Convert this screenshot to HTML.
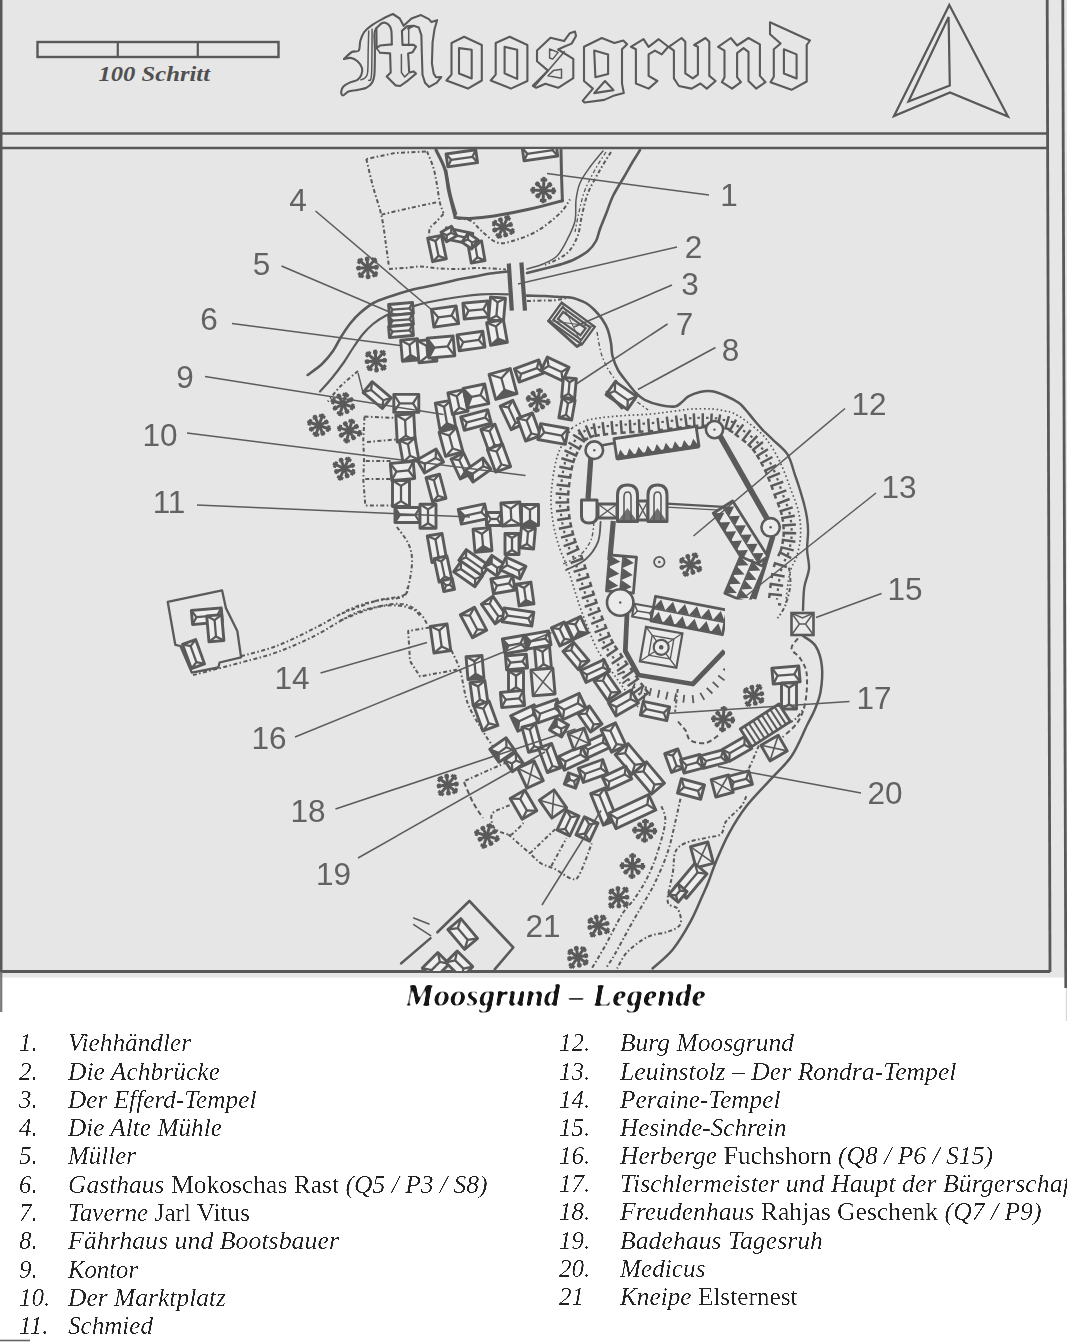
<!DOCTYPE html>
<html><head><meta charset="utf-8"><title>Moosgrund</title>
<style>html,body{margin:0;padding:0;background:#fff;}body{width:1067px;height:1344px;overflow:hidden;font-family:"Liberation Sans",sans-serif;}svg{display:block}</style>
</head><body>
<svg width="1067" height="1344" viewBox="0 0 1067 1344">
<rect x="0" y="0" width="1067" height="977.5" fill="#e6e6e6"/>
<rect x="1065.8" y="987" width="1.2" height="34" fill="#d8d8d8"/>
<path d="M1.2,0 L1.2,972" stroke="#585858" stroke-width="2.6" fill="none"/>
<path d="M0,133.5 L1047.5,133.5" stroke="#585858" stroke-width="2.6" fill="none"/>
<path d="M0,148 L1047.5,148" stroke="#585858" stroke-width="2.6" fill="none"/>
<path d="M1047.2,0 L1050,972" stroke="#585858" stroke-width="2.8" fill="none"/>
<path d="M1062.8,0 L1065.8,988" stroke="#585858" stroke-width="2.8" fill="none"/>
<path d="M0,971.5 L1050,971.5" stroke="#585858" stroke-width="2.8" fill="none"/>
<rect x="37.5" y="42" width="241" height="15" fill="none" stroke="#585858" stroke-width="2.4"/>
<path d="M117.8,42 V57 M197.8,42 V57" stroke="#585858" stroke-width="2.2"/>
<text x="98.5" y="81.3" font-family="Liberation Serif" font-size="21.5" font-style="italic" font-weight="bold" fill="#505050" textLength="111.5" lengthAdjust="spacingAndGlyphs">100 Schritt</text>
<path d="M949.3,5 L1008,116.5 L950,92.5 L894,116 Z" fill="none" stroke="#585858" stroke-width="2.2" stroke-linejoin="miter"/>
<path d="M948.6,17 L949.8,85.5 L908.5,101.5 Z" fill="none" stroke="#585858" stroke-width="2.2" stroke-linejoin="miter"/>
<path d="M344.0,59.0 C345.3,57.8 349.4,53.4 351.9,52.0 C354.3,50.6 357.4,52.4 358.8,50.5 C360.2,48.7 359.4,44.1 360.3,41.0 C361.2,37.9 362.5,34.5 364.2,32.0 C366.0,29.5 368.0,28.0 371.0,25.8 C374.0,23.6 378.6,21.0 382.2,19.1 C385.9,17.1 391.1,14.8 392.9,14.0" fill="none" stroke="#5a5a5a" stroke-width="2.1" stroke-linejoin="round" stroke-linecap="round"/>
<path d="M392.9,14.0 L399.7,18.5 L403.6,25.8 L411.5,18.5 L421.0,15.1 L428.9,19.1 L431.5,22.1 L437.1,20.2 L434.5,29.2 L432.6,42.1 L431.9,63.5 L433.7,73.6 L436.0,77.2 L441.3,77.0 L436.8,82.6 L429.2,86.9 L425.0,82.8 L422.5,74.7 L421.8,52.2 L421.4,35.4 L418.8,27.5 L413.7,25.8 L408.1,28.6" fill="none" stroke="#5a5a5a" stroke-width="2.1" stroke-linejoin="round" stroke-linecap="round"/>
<path d="M344.0,59.0 C345.1,58.8 348.5,57.5 350.7,57.9 C353.0,58.2 355.6,59.5 357.5,61.2 C359.4,62.9 361.3,65.7 362.0,68.0 C362.6,70.2 362.2,72.8 361.4,74.7 C360.7,76.7 359.5,78.5 357.5,79.8 C355.5,81.1 352.0,81.5 349.6,82.6 C347.3,83.7 344.8,85.0 343.4,86.5 C342.0,88.0 341.3,90.1 341.2,91.6 C341.1,93.1 341.7,95.5 342.9,95.5 C344.1,95.5 346.1,92.5 348.5,91.6 C350.9,90.7 354.5,90.6 357.5,89.9 C360.5,89.3 364.1,88.9 366.5,87.7 C368.9,86.4 370.8,84.8 372.1,82.6 C373.4,80.4 373.9,80.2 374.4,74.7 C374.8,69.3 374.9,56.7 374.9,50.0 C374.9,43.2 374.2,37.8 374.4,34.2 C374.5,30.7 375.8,29.6 376.0,28.6" fill="none" stroke="#5a5a5a" stroke-width="2.1" stroke-linejoin="round" stroke-linecap="round"/>
<path d="M368.7,30.9 C368.6,34.1 368.4,43.0 368.2,50.0 C368.0,56.9 368.2,67.8 367.6,72.5 C367.1,77.2 365.9,76.9 364.8,78.1 C363.7,79.3 361.5,79.5 360.9,79.8" fill="none" stroke="#5a5a5a" stroke-width="1.5" stroke-linejoin="round" stroke-linecap="round"/>
<path d="M372.1,29.2 C372.0,36.8 372.1,66.2 371.5,74.7 C371.0,83.3 369.2,79.4 368.7,80.3" fill="none" stroke="#5a5a5a" stroke-width="1.5" stroke-linejoin="round" stroke-linecap="round"/>
<path d="M376.0,28.6 C377.1,27.7 380.3,23.7 382.2,23.0 C384.2,22.2 386.4,23.0 387.9,24.1 C389.4,25.2 390.6,26.4 391.2,29.7 C391.9,33.1 391.7,41.9 391.8,44.4" fill="none" stroke="#5a5a5a" stroke-width="2.1" stroke-linejoin="round" stroke-linecap="round"/>
<path d="M391.8,44.4 L380.0,45.5 L376.6,48.3 L376.4,29.2" fill="none" stroke="#5a5a5a" stroke-width="2.1" stroke-linejoin="round" stroke-linecap="round"/>
<path d="M380.0,52.8 L390.1,53.4 L390.7,72.5 L386.7,76.4 L395.7,85.4 L400.2,86.0 L408.1,80.3 L416.0,73.6 L413.7,71.4 L409.2,72.5 L408.1,53.4 L412.6,52.2 L416.0,46.6 L413.7,44.9 L402.5,44.9 L401.9,30.9 L407.0,26.4 L412.6,25.8" fill="none" stroke="#5a5a5a" stroke-width="2.1" stroke-linejoin="round" stroke-linecap="round"/>
<path d="M401.4,54.5 L401.4,72.5 L404.7,77.0 L408.1,73.6" fill="none" stroke="#5a5a5a" stroke-width="1.5" stroke-linejoin="round" stroke-linecap="round"/>
<path d="M408.7,27.5 L408.7,45.5" fill="none" stroke="#5a5a5a" stroke-width="1.5" stroke-linejoin="round" stroke-linecap="round"/>
<path d="M376.6,48.3 L380.0,52.8" fill="none" stroke="#5a5a5a" stroke-width="1.5" stroke-linejoin="round" stroke-linecap="round"/>
<path d="M451.5,43.0 L464.1,36.7 L481.8,45.0 L481.8,80.5 L467.9,88.6 L446.4,80.5 L451.5,74.6 Z" fill="none" stroke="#5a5a5a" stroke-width="2.1" stroke-linejoin="round"/>
<path d="M459.0,48.1 L471.7,49.8 L471.7,78.4 L459.0,73.4 Z" fill="none" stroke="#5a5a5a" stroke-width="2.1" stroke-linejoin="round"/>
<path d="M495.7,43.0 L509.7,36.7 L527.4,45.0 L527.4,81.0 L510.9,88.6 L490.7,80.5 L495.7,74.6 Z" fill="none" stroke="#5a5a5a" stroke-width="2.1" stroke-linejoin="round"/>
<path d="M504.6,46.8 L517.2,49.8 L517.2,78.9 L504.6,73.4 Z" fill="none" stroke="#5a5a5a" stroke-width="2.1" stroke-linejoin="round"/>
<path d="M537.0,50.4 L550.5,37.7 L564.0,41.1 L569.9,33.2 L575.0,31.5 L576.0,36.0 L571.6,43.6 L564.0,46.7 L558.1,49.5 L573.3,58.8 L573.3,78.2 L558.1,87.8 L545.4,83.8 L536.2,87.8 L532.8,85.8 L541.2,77.4 L548.0,70.6 L537.0,61.3 Z" fill="none" stroke="#5a5a5a" stroke-width="2.1" stroke-linejoin="round"/>
<path d="M549.6,49.0 L558.1,52.4 L552.7,59.1 L549.6,58.0 Z" fill="none" stroke="#5a5a5a" stroke-width="1.5" stroke-linejoin="round"/>
<path d="M548.0,75.7 L561.5,78.2 L561.5,69.3 L553.4,70.6 Z" fill="none" stroke="#5a5a5a" stroke-width="1.5" stroke-linejoin="round"/>
<path d="M534.5,86.6 L564.8,51.2" fill="none" stroke="#5a5a5a" stroke-width="1.6" stroke-linejoin="round"/>
<path d="M584.0,46.8 L601.8,38.0 L614.4,43.0 L623.3,40.5 L627.1,44.3 L622.0,49.3 L622.0,83.5 L623.8,93.1 L614.4,95.4 L604.3,99.9 L584.5,102.5 L582.8,100.7 L592.9,88.6 L584.0,81.0 Z" fill="none" stroke="#5a5a5a" stroke-width="2.1" stroke-linejoin="round"/>
<path d="M594.2,50.6 L608.1,54.4 L608.1,73.9 L595.4,77.2 Z" fill="none" stroke="#5a5a5a" stroke-width="2.1" stroke-linejoin="round"/>
<path d="M605.0,81.0 L613.6,90.1 L594.2,93.1 Z" fill="none" stroke="#5a5a5a" stroke-width="2.1" stroke-linejoin="round"/>
<path d="M630.9,46.8 L643.5,39.2 L648.6,46.8 L658.7,39.2 L668.3,46.8 L661.7,54.4 L654.9,50.6 L648.6,54.4 L648.6,75.9 L657.4,81.0 L648.6,88.6 L635.9,83.5 L635.9,49.3 Z" fill="none" stroke="#5a5a5a" stroke-width="2.1" stroke-linejoin="round"/>
<path d="M668.8,46.8 L681.5,38.0 L685.3,41.8 L685.3,73.4 L692.8,78.4 L697.9,74.6 L697.9,46.8 L694.1,45.0 L705.5,38.0 L709.3,41.8 L709.3,75.9 L715.6,81.0 L706.8,88.6 L700.4,83.5 L691.6,88.6 L678.9,86.0 L673.9,78.4 L673.9,50.6 Z" fill="none" stroke="#5a5a5a" stroke-width="2.1" stroke-linejoin="round"/>
<path d="M718.1,46.8 L730.8,38.0 L737.1,45.5 L748.5,38.0 L759.9,44.3 L759.9,75.9 L765.5,82.2 L756.1,88.6 L748.5,81.0 L748.5,51.9 L743.5,48.1 L737.1,53.1 L737.1,77.2 L740.9,82.2 L732.1,88.6 L721.9,82.2 L724.5,77.2 L724.5,50.6 Z" fill="none" stroke="#5a5a5a" stroke-width="2.1" stroke-linejoin="round"/>
<path d="M770.0,22.3 L810.0,40.5 L806.7,45.0 L806.7,81.5 L791.5,89.8 L770.5,82.2 L773.8,76.7 L773.8,49.3 L780.6,43.5 L770.0,34.2 Z" fill="none" stroke="#5a5a5a" stroke-width="2.1" stroke-linejoin="round"/>
<path d="M783.9,49.3 L796.6,54.4 L796.6,78.4 L783.9,73.4 Z" fill="none" stroke="#5a5a5a" stroke-width="2.1" stroke-linejoin="round"/>
<clipPath id="mapclip"><rect x="2.5" y="149.3" width="1046" height="821"/></clipPath>
<filter id="hand" x="0" y="0" width="100%" height="100%" filterUnits="userSpaceOnUse"><feGaussianBlur stdDeviation="0.4"/></filter>
<g clip-path="url(#mapclip)"><g filter="url(#hand)">
<path d="M425.8,151.5 L395.0,153.0 L366.3,159.0" fill="none" stroke="#5a5a5a" stroke-width="2.0" stroke-linecap="butt" stroke-linejoin="round" stroke-dasharray="4 2.4 1.6 2.4"/>
<path d="M366.3,159.0 C367.4,163.4 370.2,176.0 372.7,185.5 C375.2,195.0 379.3,206.0 381.5,215.9 C383.7,225.8 384.8,236.5 386.0,245.0 C387.2,253.5 388.5,263.3 389.0,267.0" fill="none" stroke="#5a5a5a" stroke-width="2.0" stroke-linecap="butt" stroke-linejoin="round" stroke-dasharray="4 2.4 1.6 2.4"/>
<path d="M389.0,269.0 C391.7,268.8 399.7,268.4 405.0,268.0 C410.3,267.6 414.9,266.4 420.7,266.5 C426.5,266.6 433.2,268.1 440.0,268.5 C446.8,268.9 454.5,269.1 461.2,269.0 C467.9,268.9 472.5,267.9 480.0,268.0 C487.5,268.1 501.7,269.2 506.0,269.5" fill="none" stroke="#5a5a5a" stroke-width="2.0" stroke-linecap="butt" stroke-linejoin="round" stroke-dasharray="4 2.4 1.6 2.4"/>
<path d="M381.5,214.6 C386.2,213.5 400.5,210.1 410.0,208.0 C419.5,205.9 433.7,202.9 438.4,201.9" fill="none" stroke="#5a5a5a" stroke-width="2.0" stroke-linecap="butt" stroke-linejoin="round" stroke-dasharray="4 2.4 1.6 2.4"/>
<path d="M427.0,151.3 C428.1,154.1 431.7,162.2 433.4,167.8 C435.1,173.4 435.9,179.3 437.0,185.0 C438.1,190.7 438.6,197.2 439.7,201.9 C440.8,206.6 442.9,211.4 443.5,213.3" fill="none" stroke="#5a5a5a" stroke-width="2.0" stroke-linecap="butt" stroke-linejoin="round" stroke-dasharray="4 2.4 1.6 2.4"/>
<path d="M443.5,214.0 C442.2,215.3 438.2,219.7 436.0,222.0 C433.8,224.3 431.2,225.7 430.0,228.0 C428.8,230.3 429.2,234.7 429.0,236.0" fill="none" stroke="#5a5a5a" stroke-width="2.0" stroke-linecap="butt" stroke-linejoin="round" stroke-dasharray="4 2.4 1.6 2.4"/>
<path d="M457.4,218.4 C459.7,218.8 467.3,218.9 471.3,221.0 C475.3,223.1 477.3,227.4 481.5,231.0 C485.7,234.6 491.6,240.7 496.6,242.4 C501.7,244.1 505.1,243.1 511.8,241.2 C518.5,239.3 529.1,235.7 537.1,231.0 C545.1,226.3 554.4,218.6 559.9,213.3 C565.4,208.0 568.3,201.7 570.0,199.4" fill="none" stroke="#5a5a5a" stroke-width="2.0" stroke-linecap="butt" stroke-linejoin="round" stroke-dasharray="4 2.4 1.6 2.4"/>
<path d="M436.0,150.0 C437.5,153.2 442.7,162.2 444.8,169.0 C446.9,175.8 446.9,182.7 448.6,190.5 C450.3,198.3 453.8,211.6 454.9,215.8" fill="none" stroke="#5a5a5a" stroke-width="3.2" stroke-linecap="round" stroke-linejoin="round"/>
<path d="M446.5,170.0 C447.2,174.2 449.3,187.7 451.0,195.0 C452.7,202.3 455.6,210.8 456.5,214.0" fill="none" stroke="#5a5a5a" stroke-width="1.6" stroke-linecap="round" stroke-linejoin="round"/>
<path d="M454.9,217.5 C457.4,217.7 463.5,218.8 470.0,218.5 C476.5,218.2 484.0,217.6 494.0,216.0 C504.0,214.4 518.6,211.6 530.0,209.0 C541.4,206.4 557.0,202.1 562.4,200.7" fill="none" stroke="#5a5a5a" stroke-width="3" stroke-linecap="round" stroke-linejoin="round"/>
<path d="M561.0,150.0 L561.5,175.0 L562.4,200.7" fill="none" stroke="#5a5a5a" stroke-width="3" stroke-linecap="round" stroke-linejoin="round"/>
<g transform="translate(461.8,158.3) rotate(-8)" fill="#eeeeee" stroke="#5a5a5a" stroke-width="2.9" stroke-linejoin="round"><rect x="-15.0" y="-6.5" width="30.0" height="13.0"/><path d="M-10.8,0.0 L10.8,0.0" stroke-width="2.26"/><path d="M-15.0,-6.5 L-10.8,0.0 L-15.0,6.5 M15.0,-6.5 L10.8,0.0 L15.0,6.5" fill="none" stroke-width="2.26"/></g>
<g transform="translate(540.0,152.0) rotate(-8)" fill="#eeeeee" stroke="#5a5a5a" stroke-width="2.9" stroke-linejoin="round"><rect x="-17.0" y="-6.5" width="34.0" height="13.0"/><path d="M-12.8,0.0 L12.8,0.0" stroke-width="2.26"/><path d="M-17.0,-6.5 L-12.8,0.0 L-17.0,6.5 M17.0,-6.5 L12.8,0.0 L17.0,6.5" fill="none" stroke-width="2.26"/></g>
<g transform="translate(543.5,190.5) rotate(2)" stroke="#5a5a5a" stroke-linecap="butt" fill="none"><path d="M0,0 L12.6,0.0" stroke-width="3.0"/><path d="M9.8,-3.3 L9.8,3.3" stroke-width="3.2"/><path d="M0,0 L8.0,8.0" stroke-width="3.0"/><path d="M7.8,4.6 L4.6,7.8" stroke-width="3.2"/><path d="M0,0 L0.0,12.8" stroke-width="3.0"/><path d="M3.3,10.0 L-3.3,10.0" stroke-width="3.2"/><path d="M0,0 L-7.1,7.1" stroke-width="3.0"/><path d="M-3.9,7.2 L-7.2,3.9" stroke-width="3.2"/><path d="M0,0 L-13.2,0.0" stroke-width="3.0"/><path d="M-10.3,3.3 L-10.3,-3.3" stroke-width="3.2"/><path d="M0,0 L-7.9,-7.9" stroke-width="3.0"/><path d="M-7.8,-4.6 L-4.6,-7.8" stroke-width="3.2"/><path d="M0,0 L-0.0,-13.6" stroke-width="3.0"/><path d="M-3.3,-10.6 L3.3,-10.6" stroke-width="3.2"/><path d="M0,0 L7.7,-7.7" stroke-width="3.0"/><path d="M4.4,-7.7 L7.7,-4.4" stroke-width="3.2"/><circle r="2.4" fill="#5a5a5a" stroke="none"/></g>
<g transform="translate(503.0,227.2) rotate(26)" stroke="#5a5a5a" stroke-linecap="butt" fill="none"><path d="M0,0 L12.7,0.0" stroke-width="3.0"/><path d="M9.9,-3.3 L9.9,3.3" stroke-width="3.2"/><path d="M0,0 L7.4,7.4" stroke-width="3.0"/><path d="M7.4,4.1 L4.1,7.4" stroke-width="3.2"/><path d="M0,0 L0.0,12.3" stroke-width="3.0"/><path d="M3.3,9.6 L-3.3,9.6" stroke-width="3.2"/><path d="M0,0 L-7.9,7.9" stroke-width="3.0"/><path d="M-4.5,7.8 L-7.8,4.5" stroke-width="3.2"/><path d="M0,0 L-11.9,0.0" stroke-width="3.0"/><path d="M-9.3,3.3 L-9.3,-3.3" stroke-width="3.2"/><path d="M0,0 L-7.1,-7.1" stroke-width="3.0"/><path d="M-7.1,-3.9 L-3.9,-7.1" stroke-width="3.2"/><path d="M0,0 L-0.0,-13.1" stroke-width="3.0"/><path d="M-3.3,-10.2 L3.3,-10.2" stroke-width="3.2"/><path d="M0,0 L7.2,-7.2" stroke-width="3.0"/><path d="M4.0,-7.3 L7.3,-4.0" stroke-width="3.2"/><circle r="2.4" fill="#5a5a5a" stroke="none"/></g>
<g transform="translate(367.6,267.7) rotate(42)" stroke="#5a5a5a" stroke-linecap="butt" fill="none"><path d="M0,0 L12.7,0.0" stroke-width="3.0"/><path d="M9.9,-3.3 L9.9,3.3" stroke-width="3.2"/><path d="M0,0 L8.1,8.1" stroke-width="3.0"/><path d="M8.0,4.7 L4.7,8.0" stroke-width="3.2"/><path d="M0,0 L0.0,12.8" stroke-width="3.0"/><path d="M3.3,10.0 L-3.3,10.0" stroke-width="3.2"/><path d="M0,0 L-8.1,8.1" stroke-width="3.0"/><path d="M-4.7,7.9 L-7.9,4.7" stroke-width="3.2"/><path d="M0,0 L-12.9,0.0" stroke-width="3.0"/><path d="M-10.0,3.3 L-10.0,-3.3" stroke-width="3.2"/><path d="M0,0 L-7.8,-7.8" stroke-width="3.0"/><path d="M-7.7,-4.5 L-4.5,-7.7" stroke-width="3.2"/><path d="M0,0 L-0.0,-12.7" stroke-width="3.0"/><path d="M-3.3,-9.9 L3.3,-9.9" stroke-width="3.2"/><path d="M0,0 L7.9,-7.9" stroke-width="3.0"/><path d="M4.5,-7.8 L7.8,-4.5" stroke-width="3.2"/><circle r="2.4" fill="#5a5a5a" stroke="none"/></g>
<g transform="translate(437.0,248.5) rotate(-12)" fill="#eeeeee" stroke="#5a5a5a" stroke-width="2.9" stroke-linejoin="round"><rect x="-7.0" y="-12.0" width="14.0" height="24.0"/><path d="M0.0,-7.5 L0.0,7.5" stroke-width="2.26"/><path d="M-7.0,-12.0 L0.0,-7.5 L7.0,-12.0 M-7.0,12.0 L0.0,7.5 L7.0,12.0" fill="none" stroke-width="2.26"/></g>
<g transform="translate(458.5,236.0) rotate(12)" fill="#eeeeee" stroke="#5a5a5a" stroke-width="2.9" stroke-linejoin="round"><rect x="-13.5" y="-5.5" width="27.0" height="11.0"/><path d="M-10.0,0.0 L10.0,0.0" stroke-width="2.26"/><path d="M-13.5,-5.5 L-10.0,0.0 L-13.5,5.5 M13.5,-5.5 L10.0,0.0 L13.5,5.5" fill="none" stroke-width="2.26"/></g>
<g transform="translate(449.0,234.0) rotate(-30)" fill="#eeeeee" stroke="#5a5a5a" stroke-width="2.9" stroke-linejoin="round"><rect x="-6.0" y="-5.5" width="12.0" height="11.0"/><path d="M-2.5,0.0 L2.5,0.0" stroke-width="2.26"/><path d="M-6.0,-5.5 L-2.5,0.0 L-6.0,5.5 M6.0,-5.5 L2.5,0.0 L6.0,5.5" fill="none" stroke-width="2.26"/></g>
<g transform="translate(476.4,252.0) rotate(-10)" fill="#eeeeee" stroke="#5a5a5a" stroke-width="2.9" stroke-linejoin="round"><rect x="-7.0" y="-10.0" width="14.0" height="20.0"/><path d="M0.0,-5.5 L0.0,5.5" stroke-width="2.26"/><path d="M-7.0,-10.0 L0.0,-5.5 L7.0,-10.0 M-7.0,10.0 L0.0,5.5 L7.0,10.0" fill="none" stroke-width="2.26"/></g>
<g transform="translate(470.0,241.0) rotate(35)" fill="#eeeeee" stroke="#5a5a5a" stroke-width="2.9" stroke-linejoin="round"><rect x="-6.0" y="-5.5" width="12.0" height="11.0"/><path d="M-2.5,0.0 L2.5,0.0" stroke-width="2.26"/><path d="M-6.0,-5.5 L-2.5,0.0 L-6.0,5.5 M6.0,-5.5 L2.5,0.0 L6.0,5.5" fill="none" stroke-width="2.26"/></g>
<path d="M640.0,150.0 C638.7,152.2 634.7,158.5 632.0,163.0 C629.3,167.5 627.2,171.5 624.0,177.0 C620.8,182.5 616.0,189.8 613.0,196.0 C610.0,202.2 608.2,208.5 606.0,214.0 C603.8,219.5 601.7,224.5 600.0,229.0 C598.3,233.5 598.0,237.3 596.0,241.0 C594.0,244.7 591.5,248.0 588.0,251.0 C584.5,254.0 579.3,256.8 575.0,259.0 C570.7,261.2 567.0,262.4 562.0,264.0 C557.0,265.6 550.8,267.0 545.0,268.5 C539.2,270.0 530.0,272.2 527.0,273.0" fill="none" stroke="#5a5a5a" stroke-width="2.6" stroke-linecap="round" stroke-linejoin="round"/>
<path d="M603.0,151.0 C600.8,153.7 593.8,161.7 590.0,167.0 C586.2,172.3 582.3,177.5 580.0,183.0 C577.7,188.5 576.8,193.7 576.0,200.0 C575.2,206.3 576.5,214.3 575.0,221.0 C573.5,227.7 570.0,234.2 567.0,240.0 C564.0,245.8 561.0,252.0 557.0,256.0 C553.0,260.0 548.0,261.8 543.0,264.0 C538.0,266.2 529.7,268.2 527.0,269.0" fill="none" stroke="#5a5a5a" stroke-width="1.5" stroke-linecap="round" stroke-linejoin="round"/>
<path d="M611.0,152.0 C609.2,155.0 603.8,163.2 600.0,170.0 C596.2,176.8 591.0,185.5 588.0,193.0 C585.0,200.5 583.7,208.0 582.0,215.0 C580.3,222.0 580.0,229.2 578.0,235.0 C576.0,240.8 573.0,246.2 570.0,250.0 C567.0,253.8 564.2,255.5 560.0,258.0 C555.8,260.5 547.5,263.8 545.0,265.0" fill="none" stroke="#5a5a5a" stroke-width="2.0" stroke-linecap="butt" stroke-linejoin="round" stroke-dasharray="4 2.4 1.6 2.4"/>
<path d="M606.0,152.0 C604.3,154.7 599.5,161.7 596.0,168.0 C592.5,174.3 587.8,182.7 585.0,190.0 C582.2,197.3 580.7,205.0 579.0,212.0 C577.3,219.0 575.7,228.7 575.0,232.0" fill="none" stroke="#5a5a5a" stroke-width="1.3" stroke-linecap="butt" stroke-linejoin="round" stroke-dasharray="4 2.4 1.6 2.4"/>
<path d="M508.0,271.5 C505.0,271.8 495.7,272.6 490.0,273.5 C484.3,274.4 479.3,275.6 474.0,276.6 C468.7,277.6 463.1,278.4 458.0,279.5 C452.9,280.6 449.0,281.8 443.5,283.0 C438.0,284.2 430.4,285.8 425.0,287.0 C419.6,288.2 416.8,288.4 411.0,290.0 C405.2,291.6 396.3,294.3 390.0,296.5 C383.7,298.7 378.4,300.2 373.4,303.0 C368.4,305.8 363.8,309.7 360.0,313.0 C356.2,316.3 353.8,319.0 350.6,323.0 C347.4,327.0 343.9,332.3 341.0,337.0 C338.1,341.7 336.2,346.5 333.0,351.0 C329.8,355.5 326.2,360.0 322.0,364.0 C317.8,368.0 310.0,373.2 307.6,375.0" fill="none" stroke="#5a5a5a" stroke-width="2.6" stroke-linecap="round" stroke-linejoin="round"/>
<path d="M508.0,294.3 C505.8,294.2 499.4,294.0 495.0,294.0 C490.6,294.0 487.0,293.9 481.5,294.3 C476.0,294.7 468.3,295.6 462.0,296.5 C455.7,297.4 449.7,298.3 443.5,299.4 C437.3,300.5 430.5,301.7 425.0,303.0 C419.5,304.3 415.1,305.7 410.6,307.0 C406.1,308.3 402.1,309.6 398.0,311.0 C393.9,312.4 390.2,313.3 386.0,315.5 C381.8,317.7 376.8,320.9 373.0,324.0 C369.2,327.1 366.3,330.0 363.0,334.0 C359.7,338.0 356.3,343.1 353.0,348.0 C349.7,352.9 346.5,358.5 343.0,363.5 C339.5,368.5 335.8,373.3 332.0,378.0 C328.2,382.7 322.0,389.2 320.0,391.5" fill="none" stroke="#5a5a5a" stroke-width="2.2" stroke-linecap="round" stroke-linejoin="round"/>
<path d="M508.8,263.5 L511.8,310.7" fill="none" stroke="#5a5a5a" stroke-width="4.2" stroke-linecap="butt" stroke-linejoin="round"/>
<path d="M521.4,262.5 L525.0,310.7" fill="none" stroke="#5a5a5a" stroke-width="4.2" stroke-linecap="butt" stroke-linejoin="round"/>
<path d="M527.0,295.6 C530.0,295.7 539.9,295.8 545.0,296.0 C550.1,296.2 553.2,296.6 557.4,296.8 C561.6,297.1 566.6,297.1 570.0,297.5 C573.4,297.9 574.9,298.5 577.6,299.4 C580.3,300.3 583.3,301.3 586.0,303.0 C588.7,304.7 591.3,306.8 594.0,309.5 C596.7,312.2 599.8,315.8 602.0,319.0 C604.2,322.2 606.0,325.0 607.5,329.0 C609.0,333.0 610.2,338.5 611.0,343.0 C611.8,347.5 611.3,351.5 612.5,356.0 C613.7,360.5 615.5,365.5 618.0,370.0 C620.5,374.5 624.7,379.2 627.7,383.0 C630.7,386.8 633.2,390.2 636.0,393.0 C638.8,395.8 640.6,397.8 644.6,399.8 C648.6,401.8 654.9,403.9 660.0,405.0 C665.1,406.1 671.3,407.0 675.0,406.5 C678.7,406.0 679.8,403.7 682.0,402.0 C684.2,400.3 685.4,398.1 688.4,396.4 C691.4,394.7 696.1,392.9 700.0,392.0 C703.9,391.1 707.7,390.6 712.0,391.3 C716.3,392.0 721.5,394.1 726.0,396.0 C730.5,397.9 735.7,400.7 739.0,403.0 C742.3,405.3 743.3,407.2 745.8,410.0 C748.3,412.8 751.2,416.7 754.0,420.0 C756.8,423.3 761.2,428.3 762.7,430.0" fill="none" stroke="#5a5a5a" stroke-width="2.6" stroke-linecap="round" stroke-linejoin="round"/>
<path d="M527.0,301.0 C530.0,300.9 540.0,300.7 545.0,300.5 C550.0,300.3 552.8,300.6 557.0,300.0 C561.2,299.4 567.8,297.5 570.0,297.0" fill="none" stroke="#5a5a5a" stroke-width="2.0" stroke-linecap="butt" stroke-linejoin="round" stroke-dasharray="4 2.4 1.6 2.4"/>
<path d="M597.0,332.0 C597.8,336.0 599.4,348.7 602.0,356.0 C604.6,363.3 607.7,369.3 612.5,376.0 C617.3,382.7 625.1,390.7 631.0,396.4 C636.9,402.1 645.2,407.7 648.0,410.0" fill="none" stroke="#5a5a5a" stroke-width="1.4" stroke-linecap="butt" stroke-linejoin="round" stroke-dasharray="4 2.4 1.6 2.4"/>
<g transform="translate(571.8,323.6) rotate(36)" fill="none" stroke="#5a5a5a" stroke-width="2.2"><rect x="-20.5" y="-11.0" width="41.0" height="22.0"/><rect x="-17.2" y="-7.7" width="34.4" height="15.4"/><rect x="-13.9" y="-4.4" width="27.8" height="8.8"/><path d="M-20.5,-11.0 L20.5,11.0 M20.5,-11.0 L-20.5,11.0" stroke-width="1"/></g>
<path d="M548.5,321.0 L577.0,346.5 L581.0,344.0" fill="none" stroke="#5a5a5a" stroke-width="3" stroke-linecap="round" stroke-linejoin="round"/>
<g transform="translate(621.3,395.6) rotate(35)" fill="#eeeeee" stroke="#5a5a5a" stroke-width="2.9" stroke-linejoin="round"><rect x="-13.0" y="-8.0" width="26.0" height="16.0"/><path d="M-7.9,0.0 L7.9,0.0" stroke-width="2.26"/><path d="M-13.0,-8.0 L-7.9,0.0 L-13.0,8.0 M13.0,-8.0 L7.9,0.0 L13.0,8.0" fill="none" stroke-width="2.26"/></g>
<path d="M607.0,392.0 L622.0,408.0" fill="none" stroke="#5a5a5a" stroke-width="3" stroke-linecap="round" stroke-linejoin="round"/>
<g transform="translate(401.0,309.0) rotate(-5)" fill="#eeeeee" stroke="#5a5a5a" stroke-width="2.9" stroke-linejoin="round"><rect x="-12.0" y="-5.5" width="24.0" height="11.0"/><path d="M-8.5,0.0 L8.5,0.0" stroke-width="2.26"/><path d="M-12.0,-5.5 L-8.5,0.0 L-12.0,5.5 M12.0,-5.5 L8.5,0.0 L12.0,5.5" fill="none" stroke-width="2.26"/></g>
<g transform="translate(401.0,320.0) rotate(-5)" fill="#eeeeee" stroke="#5a5a5a" stroke-width="2.9" stroke-linejoin="round"><rect x="-12.0" y="-5.5" width="24.0" height="11.0"/><path d="M-8.5,0.0 L8.5,0.0" stroke-width="2.26"/><path d="M-12.0,-5.5 L-8.5,0.0 L-12.0,5.5 M12.0,-5.5 L8.5,0.0 L12.0,5.5" fill="none" stroke-width="2.26"/><path d="M-12.0,-5.5 L-8.5,0.0 L-12.0,5.5 Z" fill="#5a5a5a" stroke="none"/></g>
<g transform="translate(401.0,331.0) rotate(-5)" fill="#eeeeee" stroke="#5a5a5a" stroke-width="2.9" stroke-linejoin="round"><rect x="-12.0" y="-5.5" width="24.0" height="11.0"/><path d="M-8.5,0.0 L8.5,0.0" stroke-width="2.26"/><path d="M-12.0,-5.5 L-8.5,0.0 L-12.0,5.5 M12.0,-5.5 L8.5,0.0 L12.0,5.5" fill="none" stroke-width="2.26"/></g>
<g transform="translate(410.0,350.0) rotate(-5)" fill="#eeeeee" stroke="#5a5a5a" stroke-width="2.9" stroke-linejoin="round"><rect x="-8.5" y="-10.5" width="17.0" height="21.0"/><path d="M0.0,-5.1 L0.0,5.1" stroke-width="2.26"/><path d="M-8.5,-10.5 L0.0,-5.1 L8.5,-10.5 M-8.5,10.5 L0.0,5.1 L8.5,10.5" fill="none" stroke-width="2.26"/><path d="M-8.5,10.5 L0.0,5.1 L8.5,10.5 Z" fill="#5a5a5a" stroke="none"/></g>
<g transform="translate(427.0,351.0) rotate(-5)" fill="#eeeeee" stroke="#5a5a5a" stroke-width="2.9" stroke-linejoin="round"><rect x="-9.0" y="-11.0" width="18.0" height="22.0"/><path d="M0.0,-5.2 L0.0,5.2" stroke-width="2.26"/><path d="M-9.0,-11.0 L0.0,-5.2 L9.0,-11.0 M-9.0,11.0 L0.0,5.2 L9.0,11.0" fill="none" stroke-width="2.26"/></g>
<g transform="translate(441.0,347.0) rotate(-5)" fill="#eeeeee" stroke="#5a5a5a" stroke-width="2.9" stroke-linejoin="round"><rect x="-13.0" y="-10.0" width="26.0" height="20.0"/><path d="M-6.6,0.0 L6.6,0.0" stroke-width="2.26"/><path d="M-13.0,-10.0 L-6.6,0.0 L-13.0,10.0 M13.0,-10.0 L6.6,0.0 L13.0,10.0" fill="none" stroke-width="2.26"/><path d="M-13.0,-10.0 L-6.6,0.0 L-13.0,10.0 Z" fill="#5a5a5a" stroke="none"/></g>
<g transform="translate(445.0,316.5) rotate(-8)" fill="#eeeeee" stroke="#5a5a5a" stroke-width="2.9" stroke-linejoin="round"><rect x="-12.5" y="-9.0" width="25.0" height="18.0"/><path d="M-6.7,0.0 L6.7,0.0" stroke-width="2.26"/><path d="M-12.5,-9.0 L-6.7,0.0 L-12.5,9.0 M12.5,-9.0 L6.7,0.0 L12.5,9.0" fill="none" stroke-width="2.26"/></g>
<g transform="translate(476.0,310.0) rotate(-5)" fill="#eeeeee" stroke="#5a5a5a" stroke-width="2.9" stroke-linejoin="round"><rect x="-12.5" y="-8.0" width="25.0" height="16.0"/><path d="M-7.4,0.0 L7.4,0.0" stroke-width="2.26"/><path d="M-12.5,-8.0 L-7.4,0.0 L-12.5,8.0 M12.5,-8.0 L7.4,0.0 L12.5,8.0" fill="none" stroke-width="2.26"/></g>
<g transform="translate(497.0,309.0) rotate(5)" fill="#eeeeee" stroke="#5a5a5a" stroke-width="2.9" stroke-linejoin="round"><rect x="-7.5" y="-11.5" width="15.0" height="23.0"/><path d="M0.0,-6.7 L0.0,6.7" stroke-width="2.26"/><path d="M-7.5,-11.5 L0.0,-6.7 L7.5,-11.5 M-7.5,11.5 L0.0,6.7 L7.5,11.5" fill="none" stroke-width="2.26"/></g>
<g transform="translate(497.0,332.5) rotate(-10)" fill="#eeeeee" stroke="#5a5a5a" stroke-width="2.9" stroke-linejoin="round"><rect x="-8.5" y="-11.5" width="17.0" height="23.0"/><path d="M0.0,-6.1 L0.0,6.1" stroke-width="2.26"/><path d="M-8.5,-11.5 L0.0,-6.1 L8.5,-11.5 M-8.5,11.5 L0.0,6.1 L8.5,11.5" fill="none" stroke-width="2.26"/><path d="M-8.5,11.5 L0.0,6.1 L8.5,11.5 Z" fill="#5a5a5a" stroke="none"/></g>
<g transform="translate(471.0,341.0) rotate(-8)" fill="#eeeeee" stroke="#5a5a5a" stroke-width="2.9" stroke-linejoin="round"><rect x="-13.0" y="-8.0" width="26.0" height="16.0"/><path d="M-7.9,0.0 L7.9,0.0" stroke-width="2.26"/><path d="M-13.0,-8.0 L-7.9,0.0 L-13.0,8.0 M13.0,-8.0 L7.9,0.0 L13.0,8.0" fill="none" stroke-width="2.26"/></g>
<g transform="translate(377.2,395.1) rotate(40)" fill="#eeeeee" stroke="#5a5a5a" stroke-width="2.9" stroke-linejoin="round"><rect x="-12.5" y="-7.0" width="25.0" height="14.0"/><path d="M-8.0,0.0 L8.0,0.0" stroke-width="2.26"/><path d="M-12.5,-7.0 L-8.0,0.0 L-12.5,7.0 M12.5,-7.0 L8.0,0.0 L12.5,7.0" fill="none" stroke-width="2.26"/></g>
<g transform="translate(406.3,403.4) rotate(0)" fill="#eeeeee" stroke="#5a5a5a" stroke-width="2.9" stroke-linejoin="round"><rect x="-12.5" y="-9.0" width="25.0" height="18.0"/><path d="M-6.7,0.0 L6.7,0.0" stroke-width="2.26"/><path d="M-12.5,-9.0 L-6.7,0.0 L-12.5,9.0 M12.5,-9.0 L6.7,0.0 L12.5,9.0" fill="none" stroke-width="2.26"/></g>
<g transform="translate(405.5,428.0) rotate(-3)" fill="#eeeeee" stroke="#5a5a5a" stroke-width="2.9" stroke-linejoin="round"><rect x="-9.0" y="-13.5" width="18.0" height="27.0"/><path d="M0.0,-7.7 L0.0,7.7" stroke-width="2.26"/><path d="M-9.0,-13.5 L0.0,-7.7 L9.0,-13.5 M-9.0,13.5 L0.0,7.7 L9.0,13.5" fill="none" stroke-width="2.26"/></g>
<g transform="translate(409.0,450.0) rotate(-10)" fill="#eeeeee" stroke="#5a5a5a" stroke-width="2.9" stroke-linejoin="round"><rect x="-8.0" y="-11.0" width="16.0" height="22.0"/><path d="M0.0,-5.9 L0.0,5.9" stroke-width="2.26"/><path d="M-8.0,-11.0 L0.0,-5.9 L8.0,-11.0 M-8.0,11.0 L0.0,5.9 L8.0,11.0" fill="none" stroke-width="2.26"/></g>
<g transform="translate(402.5,471.0) rotate(-5)" fill="#eeeeee" stroke="#5a5a5a" stroke-width="2.9" stroke-linejoin="round"><rect x="-11.5" y="-8.5" width="23.0" height="17.0"/><path d="M-6.1,0.0 L6.1,0.0" stroke-width="2.26"/><path d="M-11.5,-8.5 L-6.1,0.0 L-11.5,8.5 M11.5,-8.5 L6.1,0.0 L11.5,8.5" fill="none" stroke-width="2.26"/></g>
<g transform="translate(430.3,461.0) rotate(-30)" fill="#eeeeee" stroke="#5a5a5a" stroke-width="2.9" stroke-linejoin="round"><rect x="-11.0" y="-7.5" width="22.0" height="15.0"/><path d="M-6.2,0.0 L6.2,0.0" stroke-width="2.26"/><path d="M-11.0,-7.5 L-6.2,0.0 L-11.0,7.5 M11.0,-7.5 L6.2,0.0 L11.0,7.5" fill="none" stroke-width="2.26"/></g>
<g transform="translate(445.5,415.0) rotate(-10)" fill="#eeeeee" stroke="#5a5a5a" stroke-width="2.9" stroke-linejoin="round"><rect x="-8.0" y="-13.5" width="16.0" height="27.0"/><path d="M0.0,-8.4 L0.0,8.4" stroke-width="2.26"/><path d="M-8.0,-13.5 L0.0,-8.4 L8.0,-13.5 M-8.0,13.5 L0.0,8.4 L8.0,13.5" fill="none" stroke-width="2.26"/><path d="M-8.0,13.5 L0.0,8.4 L8.0,13.5 Z" fill="#5a5a5a" stroke="none"/></g>
<g transform="translate(458.0,402.0) rotate(-12)" fill="#eeeeee" stroke="#5a5a5a" stroke-width="2.9" stroke-linejoin="round"><rect x="-8.0" y="-11.0" width="16.0" height="22.0"/><path d="M0.0,-5.9 L0.0,5.9" stroke-width="2.26"/><path d="M-8.0,-11.0 L0.0,-5.9 L8.0,-11.0 M-8.0,11.0 L0.0,5.9 L8.0,11.0" fill="none" stroke-width="2.26"/></g>
<g transform="translate(476.0,396.0) rotate(-12)" fill="#eeeeee" stroke="#5a5a5a" stroke-width="2.9" stroke-linejoin="round"><rect x="-11.0" y="-10.0" width="22.0" height="20.0"/><path d="M-4.6,0.0 L4.6,0.0" stroke-width="2.26"/><path d="M-11.0,-10.0 L-4.6,0.0 L-11.0,10.0 M11.0,-10.0 L4.6,0.0 L11.0,10.0" fill="none" stroke-width="2.26"/><path d="M-11.0,-10.0 L-4.6,0.0 L-11.0,10.0 Z" fill="#5a5a5a" stroke="none"/></g>
<g transform="translate(476.0,420.0) rotate(-15)" fill="#eeeeee" stroke="#5a5a5a" stroke-width="2.9" stroke-linejoin="round"><rect x="-14.0" y="-7.0" width="28.0" height="14.0"/><path d="M-9.5,0.0 L9.5,0.0" stroke-width="2.26"/><path d="M-14.0,-7.0 L-9.5,0.0 L-14.0,7.0 M14.0,-7.0 L9.5,0.0 L14.0,7.0" fill="none" stroke-width="2.26"/></g>
<g transform="translate(451.0,442.0) rotate(-15)" fill="#eeeeee" stroke="#5a5a5a" stroke-width="2.9" stroke-linejoin="round"><rect x="-9.0" y="-12.5" width="18.0" height="25.0"/><path d="M0.0,-6.7 L0.0,6.7" stroke-width="2.26"/><path d="M-9.0,-12.5 L0.0,-6.7 L9.0,-12.5 M-9.0,12.5 L0.0,6.7 L9.0,12.5" fill="none" stroke-width="2.26"/></g>
<g transform="translate(492.0,438.0) rotate(-20)" fill="#eeeeee" stroke="#5a5a5a" stroke-width="2.9" stroke-linejoin="round"><rect x="-7.5" y="-12.0" width="15.0" height="24.0"/><path d="M0.0,-7.2 L0.0,7.2" stroke-width="2.26"/><path d="M-7.5,-12.0 L0.0,-7.2 L7.5,-12.0 M-7.5,12.0 L0.0,7.2 L7.5,12.0" fill="none" stroke-width="2.26"/></g>
<g transform="translate(499.0,458.0) rotate(-20)" fill="#eeeeee" stroke="#5a5a5a" stroke-width="2.9" stroke-linejoin="round"><rect x="-8.0" y="-12.0" width="16.0" height="24.0"/><path d="M0.0,-6.9 L0.0,6.9" stroke-width="2.26"/><path d="M-8.0,-12.0 L0.0,-6.9 L8.0,-12.0 M-8.0,12.0 L0.0,6.9 L8.0,12.0" fill="none" stroke-width="2.26"/></g>
<g transform="translate(462.0,466.0) rotate(-25)" fill="#eeeeee" stroke="#5a5a5a" stroke-width="2.9" stroke-linejoin="round"><rect x="-7.0" y="-11.0" width="14.0" height="22.0"/><path d="M0.0,-6.5 L0.0,6.5" stroke-width="2.26"/><path d="M-7.0,-11.0 L0.0,-6.5 L7.0,-11.0 M-7.0,11.0 L0.0,6.5 L7.0,11.0" fill="none" stroke-width="2.26"/><path d="M-7.0,11.0 L0.0,6.5 L7.0,11.0 Z" fill="#5a5a5a" stroke="none"/></g>
<g transform="translate(478.0,470.0) rotate(-35)" fill="#eeeeee" stroke="#5a5a5a" stroke-width="2.9" stroke-linejoin="round"><rect x="-11.0" y="-7.0" width="22.0" height="14.0"/><path d="M-6.5,0.0 L6.5,0.0" stroke-width="2.26"/><path d="M-11.0,-7.0 L-6.5,0.0 L-11.0,7.0 M11.0,-7.0 L6.5,0.0 L11.0,7.0" fill="none" stroke-width="2.26"/><path d="M-11.0,-7.0 L-6.5,0.0 L-11.0,7.0 Z" fill="#5a5a5a" stroke="none"/></g>
<g transform="translate(503.0,384.0) rotate(-15)" fill="#eeeeee" stroke="#5a5a5a" stroke-width="2.9" stroke-linejoin="round"><rect x="-11.0" y="-13.0" width="22.0" height="26.0"/><path d="M0.0,-6.0 L0.0,6.0" stroke-width="2.26"/><path d="M-11.0,-13.0 L0.0,-6.0 L11.0,-13.0 M-11.0,13.0 L0.0,6.0 L11.0,13.0" fill="none" stroke-width="2.26"/><path d="M-11.0,13.0 L0.0,6.0 L11.0,13.0 Z" fill="#5a5a5a" stroke="none"/></g>
<g transform="translate(529.0,371.0) rotate(-20)" fill="#eeeeee" stroke="#5a5a5a" stroke-width="2.9" stroke-linejoin="round"><rect x="-13.0" y="-7.0" width="26.0" height="14.0"/><path d="M-8.5,0.0 L8.5,0.0" stroke-width="2.26"/><path d="M-13.0,-7.0 L-8.5,0.0 L-13.0,7.0 M13.0,-7.0 L8.5,0.0 L13.0,7.0" fill="none" stroke-width="2.26"/></g>
<g transform="translate(555.0,369.0) rotate(25)" fill="#eeeeee" stroke="#5a5a5a" stroke-width="2.9" stroke-linejoin="round"><rect x="-12.0" y="-7.5" width="24.0" height="15.0"/><path d="M-7.2,0.0 L7.2,0.0" stroke-width="2.26"/><path d="M-12.0,-7.5 L-7.2,0.0 L-12.0,7.5 M12.0,-7.5 L7.2,0.0 L12.0,7.5" fill="none" stroke-width="2.26"/></g>
<g transform="translate(569.0,388.0) rotate(5)" fill="#eeeeee" stroke="#5a5a5a" stroke-width="2.9" stroke-linejoin="round"><rect x="-6.5" y="-10.0" width="13.0" height="20.0"/><path d="M0.0,-5.8 L0.0,5.8" stroke-width="2.26"/><path d="M-6.5,-10.0 L0.0,-5.8 L6.5,-10.0 M-6.5,10.0 L0.0,5.8 L6.5,10.0" fill="none" stroke-width="2.26"/></g>
<g transform="translate(567.0,409.0) rotate(10)" fill="#eeeeee" stroke="#5a5a5a" stroke-width="2.9" stroke-linejoin="round"><rect x="-6.5" y="-10.0" width="13.0" height="20.0"/><path d="M0.0,-5.8 L0.0,5.8" stroke-width="2.26"/><path d="M-6.5,-10.0 L0.0,-5.8 L6.5,-10.0 M-6.5,10.0 L0.0,5.8 L6.5,10.0" fill="none" stroke-width="2.26"/></g>
<g transform="translate(512.0,415.0) rotate(-25)" fill="#eeeeee" stroke="#5a5a5a" stroke-width="2.9" stroke-linejoin="round"><rect x="-7.0" y="-13.0" width="14.0" height="26.0"/><path d="M0.0,-8.5 L0.0,8.5" stroke-width="2.26"/><path d="M-7.0,-13.0 L0.0,-8.5 L7.0,-13.0 M-7.0,13.0 L0.0,8.5 L7.0,13.0" fill="none" stroke-width="2.26"/></g>
<g transform="translate(529.0,427.0) rotate(-20)" fill="#eeeeee" stroke="#5a5a5a" stroke-width="2.9" stroke-linejoin="round"><rect x="-8.0" y="-12.0" width="16.0" height="24.0"/><path d="M0.0,-6.9 L0.0,6.9" stroke-width="2.26"/><path d="M-8.0,-12.0 L0.0,-6.9 L8.0,-12.0 M-8.0,12.0 L0.0,6.9 L8.0,12.0" fill="none" stroke-width="2.26"/></g>
<g transform="translate(553.0,434.0) rotate(10)" fill="#eeeeee" stroke="#5a5a5a" stroke-width="2.9" stroke-linejoin="round"><rect x="-14.0" y="-8.0" width="28.0" height="16.0"/><path d="M-8.9,0.0 L8.9,0.0" stroke-width="2.26"/><path d="M-14.0,-8.0 L-8.9,0.0 L-14.0,8.0 M14.0,-8.0 L8.9,0.0 L14.0,8.0" fill="none" stroke-width="2.26"/></g>
<g transform="translate(375.9,361.0) rotate(41)" stroke="#5a5a5a" stroke-linecap="butt" fill="none"><path d="M0,0 L13.0,0.0" stroke-width="3.0"/><path d="M10.1,-3.3 L10.1,3.3" stroke-width="3.2"/><path d="M0,0 L8.1,8.1" stroke-width="3.0"/><path d="M7.9,4.7 L4.7,7.9" stroke-width="3.2"/><path d="M0,0 L0.0,12.2" stroke-width="3.0"/><path d="M3.3,9.6 L-3.3,9.6" stroke-width="3.2"/><path d="M0,0 L-7.9,7.9" stroke-width="3.0"/><path d="M-4.5,7.8 L-7.8,4.5" stroke-width="3.2"/><path d="M0,0 L-13.0,0.0" stroke-width="3.0"/><path d="M-10.2,3.3 L-10.2,-3.3" stroke-width="3.2"/><path d="M0,0 L-8.0,-8.0" stroke-width="3.0"/><path d="M-7.8,-4.6 L-4.6,-7.8" stroke-width="3.2"/><path d="M0,0 L-0.0,-13.5" stroke-width="3.0"/><path d="M-3.3,-10.5 L3.3,-10.5" stroke-width="3.2"/><path d="M0,0 L7.8,-7.8" stroke-width="3.0"/><path d="M4.5,-7.7 L7.7,-4.5" stroke-width="3.2"/><circle r="2.4" fill="#5a5a5a" stroke="none"/></g>
<g transform="translate(343.0,404.0) rotate(17)" stroke="#5a5a5a" stroke-linecap="butt" fill="none"><path d="M0,0 L12.5,0.0" stroke-width="3.0"/><path d="M9.7,-3.3 L9.7,3.3" stroke-width="3.2"/><path d="M0,0 L7.7,7.7" stroke-width="3.0"/><path d="M7.6,4.4 L4.4,7.6" stroke-width="3.2"/><path d="M0,0 L0.0,12.5" stroke-width="3.0"/><path d="M3.3,9.8 L-3.3,9.8" stroke-width="3.2"/><path d="M0,0 L-8.0,8.0" stroke-width="3.0"/><path d="M-4.6,7.8 L-7.8,4.6" stroke-width="3.2"/><path d="M0,0 L-12.9,0.0" stroke-width="3.0"/><path d="M-10.0,3.3 L-10.0,-3.3" stroke-width="3.2"/><path d="M0,0 L-8.0,-8.0" stroke-width="3.0"/><path d="M-7.8,-4.6 L-4.6,-7.8" stroke-width="3.2"/><path d="M0,0 L-0.0,-12.0" stroke-width="3.0"/><path d="M-3.3,-9.3 L3.3,-9.3" stroke-width="3.2"/><path d="M0,0 L8.2,-8.2" stroke-width="3.0"/><path d="M4.8,-8.0 L8.0,-4.8" stroke-width="3.2"/><circle r="2.4" fill="#5a5a5a" stroke="none"/></g>
<g transform="translate(319.0,425.5) rotate(19)" stroke="#5a5a5a" stroke-linecap="butt" fill="none"><path d="M0,0 L12.4,0.0" stroke-width="3.0"/><path d="M9.7,-3.3 L9.7,3.3" stroke-width="3.2"/><path d="M0,0 L7.8,7.8" stroke-width="3.0"/><path d="M7.7,4.4 L4.4,7.7" stroke-width="3.2"/><path d="M0,0 L0.0,11.8" stroke-width="3.0"/><path d="M3.3,9.2 L-3.3,9.2" stroke-width="3.2"/><path d="M0,0 L-7.7,7.7" stroke-width="3.0"/><path d="M-4.3,7.6 L-7.6,4.3" stroke-width="3.2"/><path d="M0,0 L-12.3,0.0" stroke-width="3.0"/><path d="M-9.6,3.3 L-9.6,-3.3" stroke-width="3.2"/><path d="M0,0 L-8.1,-8.1" stroke-width="3.0"/><path d="M-8.0,-4.7 L-4.7,-8.0" stroke-width="3.2"/><path d="M0,0 L-0.0,-12.4" stroke-width="3.0"/><path d="M-3.3,-9.7 L3.3,-9.7" stroke-width="3.2"/><path d="M0,0 L7.3,-7.3" stroke-width="3.0"/><path d="M4.1,-7.3 L7.3,-4.1" stroke-width="3.2"/><circle r="2.4" fill="#5a5a5a" stroke="none"/></g>
<g transform="translate(349.3,430.6) rotate(15)" stroke="#5a5a5a" stroke-linecap="butt" fill="none"><path d="M0,0 L13.2,0.0" stroke-width="3.0"/><path d="M10.3,-3.3 L10.3,3.3" stroke-width="3.2"/><path d="M0,0 L7.5,7.5" stroke-width="3.0"/><path d="M7.5,4.3 L4.3,7.5" stroke-width="3.2"/><path d="M0,0 L0.0,13.1" stroke-width="3.0"/><path d="M3.3,10.2 L-3.3,10.2" stroke-width="3.2"/><path d="M0,0 L-8.2,8.2" stroke-width="3.0"/><path d="M-4.8,8.0 L-8.0,4.8" stroke-width="3.2"/><path d="M0,0 L-12.5,0.0" stroke-width="3.0"/><path d="M-9.7,3.3 L-9.7,-3.3" stroke-width="3.2"/><path d="M0,0 L-7.2,-7.2" stroke-width="3.0"/><path d="M-7.2,-4.0 L-4.0,-7.2" stroke-width="3.2"/><path d="M0,0 L-0.0,-12.0" stroke-width="3.0"/><path d="M-3.3,-9.4 L3.3,-9.4" stroke-width="3.2"/><path d="M0,0 L7.4,-7.4" stroke-width="3.0"/><path d="M4.2,-7.4 L7.4,-4.2" stroke-width="3.2"/><circle r="2.4" fill="#5a5a5a" stroke="none"/></g>
<g transform="translate(344.3,468.5) rotate(24)" stroke="#5a5a5a" stroke-linecap="butt" fill="none"><path d="M0,0 L11.8,0.0" stroke-width="3.0"/><path d="M9.2,-3.3 L9.2,3.3" stroke-width="3.2"/><path d="M0,0 L7.2,7.2" stroke-width="3.0"/><path d="M7.2,4.0 L4.0,7.2" stroke-width="3.2"/><path d="M0,0 L0.0,13.0" stroke-width="3.0"/><path d="M3.3,10.1 L-3.3,10.1" stroke-width="3.2"/><path d="M0,0 L-7.5,7.5" stroke-width="3.0"/><path d="M-4.2,7.5 L-7.5,4.2" stroke-width="3.2"/><path d="M0,0 L-12.4,0.0" stroke-width="3.0"/><path d="M-9.6,3.3 L-9.6,-3.3" stroke-width="3.2"/><path d="M0,0 L-7.9,-7.9" stroke-width="3.0"/><path d="M-7.8,-4.6 L-4.6,-7.8" stroke-width="3.2"/><path d="M0,0 L-0.0,-12.5" stroke-width="3.0"/><path d="M-3.3,-9.8 L3.3,-9.8" stroke-width="3.2"/><path d="M0,0 L7.9,-7.9" stroke-width="3.0"/><path d="M4.6,-7.8 L7.8,-4.6" stroke-width="3.2"/><circle r="2.4" fill="#5a5a5a" stroke="none"/></g>
<g transform="translate(537.9,400.2) rotate(10)" stroke="#5a5a5a" stroke-linecap="butt" fill="none"><path d="M0,0 L12.7,0.0" stroke-width="3.0"/><path d="M9.9,-3.3 L9.9,3.3" stroke-width="3.2"/><path d="M0,0 L7.4,7.4" stroke-width="3.0"/><path d="M7.4,4.1 L4.1,7.4" stroke-width="3.2"/><path d="M0,0 L0.0,12.4" stroke-width="3.0"/><path d="M3.3,9.7 L-3.3,9.7" stroke-width="3.2"/><path d="M0,0 L-7.7,7.7" stroke-width="3.0"/><path d="M-4.4,7.6 L-7.6,4.4" stroke-width="3.2"/><path d="M0,0 L-12.2,0.0" stroke-width="3.0"/><path d="M-9.5,3.3 L-9.5,-3.3" stroke-width="3.2"/><path d="M0,0 L-7.7,-7.7" stroke-width="3.0"/><path d="M-7.6,-4.4 L-4.4,-7.6" stroke-width="3.2"/><path d="M0,0 L-0.0,-12.1" stroke-width="3.0"/><path d="M-3.3,-9.5 L3.3,-9.5" stroke-width="3.2"/><path d="M0,0 L7.3,-7.3" stroke-width="3.0"/><path d="M4.1,-7.3 L7.3,-4.1" stroke-width="3.2"/><circle r="2.4" fill="#5a5a5a" stroke="none"/></g>
<path d="M364.5,416.6 L394.9,417.9" fill="none" stroke="#5a5a5a" stroke-width="2.0" stroke-linecap="butt" stroke-linejoin="round" stroke-dasharray="4 2.4 1.6 2.4"/>
<path d="M364.5,416.6 L363.3,440.0 L364.0,460.0 L363.3,480.0 L365.3,505.5 L391.9,505.5" fill="none" stroke="#5a5a5a" stroke-width="2.0" stroke-linecap="butt" stroke-linejoin="round" stroke-dasharray="4 2.4 1.6 2.4"/>
<path d="M367.0,442.0 L396.0,439.5" fill="none" stroke="#5a5a5a" stroke-width="2.0" stroke-linecap="butt" stroke-linejoin="round" stroke-dasharray="4 2.4 1.6 2.4"/>
<path d="M365.8,461.0 L391.0,461.0" fill="none" stroke="#5a5a5a" stroke-width="2.0" stroke-linecap="butt" stroke-linejoin="round" stroke-dasharray="4 2.4 1.6 2.4"/>
<path d="M365.3,479.0 L390.6,479.0" fill="none" stroke="#5a5a5a" stroke-width="2.0" stroke-linecap="butt" stroke-linejoin="round" stroke-dasharray="4 2.4 1.6 2.4"/>
<path d="M358.0,371.0 C355.1,373.6 345.5,381.2 340.5,386.3 C335.5,391.4 329.9,399.0 327.8,401.5" fill="none" stroke="#5a5a5a" stroke-width="2.0" stroke-linecap="butt" stroke-linejoin="round" stroke-dasharray="4 2.4 1.6 2.4"/>
<path d="M358.2,373.6 L363.3,393.9" fill="none" stroke="#5a5a5a" stroke-width="1.5" stroke-linecap="round" stroke-linejoin="round"/>
<g transform="translate(401.0,493.5) rotate(0)" fill="#eeeeee" stroke="#5a5a5a" stroke-width="2.9" stroke-linejoin="round"><rect x="-8.5" y="-13.0" width="17.0" height="26.0"/><path d="M0.0,-7.6 L0.0,7.6" stroke-width="2.26"/><path d="M-8.5,-13.0 L0.0,-7.6 L8.5,-13.0 M-8.5,13.0 L0.0,7.6 L8.5,13.0" fill="none" stroke-width="2.26"/></g>
<g transform="translate(436.0,488.0) rotate(-15)" fill="#eeeeee" stroke="#5a5a5a" stroke-width="2.9" stroke-linejoin="round"><rect x="-7.0" y="-12.5" width="14.0" height="25.0"/><path d="M0.0,-8.0 L0.0,8.0" stroke-width="2.26"/><path d="M-7.0,-12.5 L0.0,-8.0 L7.0,-12.5 M-7.0,12.5 L0.0,8.0 L7.0,12.5" fill="none" stroke-width="2.26"/></g>
<g transform="translate(407.5,515.0) rotate(0)" fill="#eeeeee" stroke="#5a5a5a" stroke-width="2.9" stroke-linejoin="round"><rect x="-12.5" y="-7.5" width="25.0" height="15.0"/><path d="M-7.7,0.0 L7.7,0.0" stroke-width="2.26"/><path d="M-12.5,-7.5 L-7.7,0.0 L-12.5,7.5 M12.5,-7.5 L7.7,0.0 L12.5,7.5" fill="none" stroke-width="2.26"/><path d="M-12.5,-7.5 L-7.7,0.0 L-12.5,7.5 Z" fill="#5a5a5a" stroke="none"/></g>
<g transform="translate(428.0,516.3) rotate(0)" fill="#eeeeee" stroke="#5a5a5a" stroke-width="2.9" stroke-linejoin="round"><rect x="-8.0" y="-12.0" width="16.0" height="24.0"/><path d="M0.0,-6.9 L0.0,6.9" stroke-width="2.26"/><path d="M-8.0,-12.0 L0.0,-6.9 L8.0,-12.0 M-8.0,12.0 L0.0,6.9 L8.0,12.0" fill="none" stroke-width="2.26"/></g>
<g transform="translate(437.0,548.0) rotate(-10)" fill="#eeeeee" stroke="#5a5a5a" stroke-width="2.9" stroke-linejoin="round"><rect x="-7.5" y="-13.5" width="15.0" height="27.0"/><path d="M0.0,-8.7 L0.0,8.7" stroke-width="2.26"/><path d="M-7.5,-13.5 L0.0,-8.7 L7.5,-13.5 M-7.5,13.5 L0.0,8.7 L7.5,13.5" fill="none" stroke-width="2.26"/></g>
<g transform="translate(443.0,569.0) rotate(-12)" fill="#eeeeee" stroke="#5a5a5a" stroke-width="2.9" stroke-linejoin="round"><rect x="-6.5" y="-12.0" width="13.0" height="24.0"/><path d="M0.0,-7.8 L0.0,7.8" stroke-width="2.26"/><path d="M-6.5,-12.0 L0.0,-7.8 L6.5,-12.0 M-6.5,12.0 L0.0,7.8 L6.5,12.0" fill="none" stroke-width="2.26"/></g>
<g transform="translate(448.0,585.0) rotate(-12)" fill="#eeeeee" stroke="#5a5a5a" stroke-width="2.9" stroke-linejoin="round"><rect x="-5.5" y="-5.5" width="11.0" height="11.0"/><path d="M-2.0,0.0 L2.0,0.0" stroke-width="2.26"/><path d="M-5.5,-5.5 L-2.0,0.0 L-5.5,5.5 M5.5,-5.5 L2.0,0.0 L5.5,5.5" fill="none" stroke-width="2.26"/></g>
<g transform="translate(473.0,514.0) rotate(-12)" fill="#eeeeee" stroke="#5a5a5a" stroke-width="2.9" stroke-linejoin="round"><rect x="-13.5" y="-7.5" width="27.0" height="15.0"/><path d="M-8.7,0.0 L8.7,0.0" stroke-width="2.26"/><path d="M-13.5,-7.5 L-8.7,0.0 L-13.5,7.5 M13.5,-7.5 L8.7,0.0 L13.5,7.5" fill="none" stroke-width="2.26"/><path d="M-13.5,-7.5 L-8.7,0.0 L-13.5,7.5 Z" fill="#5a5a5a" stroke="none"/></g>
<g transform="translate(494.0,519.0) rotate(0)" fill="#eeeeee" stroke="#5a5a5a" stroke-width="2.9" stroke-linejoin="round"><rect x="-7.5" y="-6.5" width="15.0" height="13.0"/><path d="M-3.3,0.0 L3.3,0.0" stroke-width="2.26"/><path d="M-7.5,-6.5 L-3.3,0.0 L-7.5,6.5 M7.5,-6.5 L3.3,0.0 L7.5,6.5" fill="none" stroke-width="2.26"/></g>
<g transform="translate(511.0,514.0) rotate(-3)" fill="#eeeeee" stroke="#5a5a5a" stroke-width="2.9" stroke-linejoin="round"><rect x="-9.5" y="-11.5" width="19.0" height="23.0"/><path d="M0.0,-5.4 L0.0,5.4" stroke-width="2.26"/><path d="M-9.5,-11.5 L0.0,-5.4 L9.5,-11.5 M-9.5,11.5 L0.0,5.4 L9.5,11.5" fill="none" stroke-width="2.26"/></g>
<g transform="translate(530.0,515.0) rotate(0)" fill="#eeeeee" stroke="#5a5a5a" stroke-width="2.9" stroke-linejoin="round"><rect x="-8.5" y="-10.5" width="17.0" height="21.0"/><path d="M0.0,-5.1 L0.0,5.1" stroke-width="2.26"/><path d="M-8.5,-10.5 L0.0,-5.1 L8.5,-10.5 M-8.5,10.5 L0.0,5.1 L8.5,10.5" fill="none" stroke-width="2.26"/><path d="M-8.5,10.5 L0.0,5.1 L8.5,10.5 Z" fill="#5a5a5a" stroke="none"/></g>
<g transform="translate(482.5,540.0) rotate(-5)" fill="#eeeeee" stroke="#5a5a5a" stroke-width="2.9" stroke-linejoin="round"><rect x="-8.5" y="-11.5" width="17.0" height="23.0"/><path d="M0.0,-6.1 L0.0,6.1" stroke-width="2.26"/><path d="M-8.5,-11.5 L0.0,-6.1 L8.5,-11.5 M-8.5,11.5 L0.0,6.1 L8.5,11.5" fill="none" stroke-width="2.26"/><path d="M-8.5,11.5 L0.0,6.1 L8.5,11.5 Z" fill="#5a5a5a" stroke="none"/></g>
<g transform="translate(512.0,544.0) rotate(0)" fill="#eeeeee" stroke="#5a5a5a" stroke-width="2.9" stroke-linejoin="round"><rect x="-7.0" y="-10.5" width="14.0" height="21.0"/><path d="M0.0,-6.0 L0.0,6.0" stroke-width="2.26"/><path d="M-7.0,-10.5 L0.0,-6.0 L7.0,-10.5 M-7.0,10.5 L0.0,6.0 L7.0,10.5" fill="none" stroke-width="2.26"/></g>
<g transform="translate(527.5,538.0) rotate(5)" fill="#eeeeee" stroke="#5a5a5a" stroke-width="2.9" stroke-linejoin="round"><rect x="-7.0" y="-10.5" width="14.0" height="21.0"/><path d="M0.0,-6.0 L0.0,6.0" stroke-width="2.26"/><path d="M-7.0,-10.5 L0.0,-6.0 L7.0,-10.5 M-7.0,10.5 L0.0,6.0 L7.0,10.5" fill="none" stroke-width="2.26"/></g>
<g transform="translate(474.0,563.0) rotate(35)" fill="#eeeeee" stroke="#5a5a5a" stroke-width="2.9" stroke-linejoin="round"><rect x="-14.0" y="-6.5" width="28.0" height="13.0"/><path d="M-9.8,0.0 L9.8,0.0" stroke-width="2.26"/><path d="M-14.0,-6.5 L-9.8,0.0 L-14.0,6.5 M14.0,-6.5 L9.8,0.0 L14.0,6.5" fill="none" stroke-width="2.26"/></g>
<g transform="translate(468.0,574.0) rotate(35)" fill="#eeeeee" stroke="#5a5a5a" stroke-width="2.9" stroke-linejoin="round"><rect x="-13.0" y="-6.5" width="26.0" height="13.0"/><path d="M-8.8,0.0 L8.8,0.0" stroke-width="2.26"/><path d="M-13.0,-6.5 L-8.8,0.0 L-13.0,6.5 M13.0,-6.5 L8.8,0.0 L13.0,6.5" fill="none" stroke-width="2.26"/></g>
<g transform="translate(494.4,565.7) rotate(35)" fill="#eeeeee" stroke="#5a5a5a" stroke-width="2.9" stroke-linejoin="round"><rect x="-8.0" y="-7.0" width="16.0" height="14.0"/><path d="M-3.5,0.0 L3.5,0.0" stroke-width="2.26"/><path d="M-8.0,-7.0 L-3.5,0.0 L-8.0,7.0 M8.0,-7.0 L3.5,0.0 L8.0,7.0" fill="none" stroke-width="2.26"/><path d="M-8.0,-7.0 L-3.5,0.0 L-8.0,7.0 Z" fill="#5a5a5a" stroke="none"/></g>
<g transform="translate(513.0,568.0) rotate(25)" fill="#eeeeee" stroke="#5a5a5a" stroke-width="2.9" stroke-linejoin="round"><rect x="-11.0" y="-7.0" width="22.0" height="14.0"/><path d="M-6.5,0.0 L6.5,0.0" stroke-width="2.26"/><path d="M-11.0,-7.0 L-6.5,0.0 L-11.0,7.0 M11.0,-7.0 L6.5,0.0 L11.0,7.0" fill="none" stroke-width="2.26"/></g>
<g transform="translate(503.0,584.5) rotate(-10)" fill="#eeeeee" stroke="#5a5a5a" stroke-width="2.9" stroke-linejoin="round"><rect x="-11.0" y="-7.5" width="22.0" height="15.0"/><path d="M-6.2,0.0 L6.2,0.0" stroke-width="2.26"/><path d="M-11.0,-7.5 L-6.2,0.0 L-11.0,7.5 M11.0,-7.5 L6.2,0.0 L11.0,7.5" fill="none" stroke-width="2.26"/></g>
<g transform="translate(525.0,594.0) rotate(-8)" fill="#eeeeee" stroke="#5a5a5a" stroke-width="2.9" stroke-linejoin="round"><rect x="-7.5" y="-11.0" width="15.0" height="22.0"/><path d="M0.0,-6.2 L0.0,6.2" stroke-width="2.26"/><path d="M-7.5,-11.0 L0.0,-6.2 L7.5,-11.0 M-7.5,11.0 L0.0,6.2 L7.5,11.0" fill="none" stroke-width="2.26"/><path d="M-7.5,11.0 L0.0,6.2 L7.5,11.0 Z" fill="#5a5a5a" stroke="none"/></g>
<g transform="translate(494.0,610.0) rotate(-35)" fill="#eeeeee" stroke="#5a5a5a" stroke-width="2.9" stroke-linejoin="round"><rect x="-7.0" y="-12.0" width="14.0" height="24.0"/><path d="M0.0,-7.5 L0.0,7.5" stroke-width="2.26"/><path d="M-7.0,-12.0 L0.0,-7.5 L7.0,-12.0 M-7.0,12.0 L0.0,7.5 L7.0,12.0" fill="none" stroke-width="2.26"/></g>
<g transform="translate(518.0,617.0) rotate(8)" fill="#eeeeee" stroke="#5a5a5a" stroke-width="2.9" stroke-linejoin="round"><rect x="-15.0" y="-7.0" width="30.0" height="14.0"/><path d="M-10.5,0.0 L10.5,0.0" stroke-width="2.26"/><path d="M-15.0,-7.0 L-10.5,0.0 L-15.0,7.0 M15.0,-7.0 L10.5,0.0 L15.0,7.0" fill="none" stroke-width="2.26"/></g>
<g transform="translate(473.5,622.5) rotate(-28)" fill="#eeeeee" stroke="#5a5a5a" stroke-width="2.9" stroke-linejoin="round"><rect x="-8.0" y="-13.0" width="16.0" height="26.0"/><path d="M0.0,-7.9 L0.0,7.9" stroke-width="2.26"/><path d="M-8.0,-13.0 L0.0,-7.9 L8.0,-13.0 M-8.0,13.0 L0.0,7.9 L8.0,13.0" fill="none" stroke-width="2.26"/></g>
<g transform="translate(440.5,638.5) rotate(-8)" fill="#eeeeee" stroke="#5a5a5a" stroke-width="2.9" stroke-linejoin="round"><rect x="-8.5" y="-13.5" width="17.0" height="27.0"/><path d="M0.0,-8.1 L0.0,8.1" stroke-width="2.26"/><path d="M-8.5,-13.5 L0.0,-8.1 L8.5,-13.5 M-8.5,13.5 L0.0,8.1 L8.5,13.5" fill="none" stroke-width="2.26"/></g>
<path d="M396.9,527.0 C398.8,529.8 405.8,537.8 408.3,543.5 C410.8,549.2 412.1,554.0 412.1,561.2 C412.1,568.4 409.8,580.8 408.3,586.5 C406.8,592.2 408.4,593.1 403.3,595.4 C398.2,597.7 386.4,598.1 378.0,600.4 C369.6,602.7 359.0,607.0 352.7,609.3 C346.4,611.6 342.1,613.5 340.0,614.4" fill="none" stroke="#5a5a5a" stroke-width="2.0" stroke-linecap="butt" stroke-linejoin="round" stroke-dasharray="4 2.4 1.6 2.4"/>
<path d="M340.0,620.7 C344.2,619.0 356.9,613.4 365.3,610.6 C373.7,607.9 383.4,605.1 390.6,604.2 C397.8,603.4 403.2,603.8 408.3,605.5 C413.4,607.2 417.8,611.2 421.0,614.4 C424.2,617.6 426.2,622.8 427.3,624.5" fill="none" stroke="#5a5a5a" stroke-width="2.0" stroke-linecap="butt" stroke-linejoin="round" stroke-dasharray="4 2.4 1.6 2.4"/>
<path d="M429.5,627.5 L408.2,630.9 L410.0,661.0 L420.0,676.4 L457.0,669.7" fill="none" stroke="#5a5a5a" stroke-width="2.0" stroke-linecap="butt" stroke-linejoin="round" stroke-dasharray="4 2.4 1.6 2.4"/>
<path d="M762.7,430.0 C764.3,431.6 768.4,435.3 772.5,439.4 C776.6,443.5 783.8,448.5 787.5,454.4 C791.2,460.3 792.9,469.1 795.0,475.0 C797.1,480.9 798.5,485.0 800.0,490.0 C801.5,495.0 803.1,500.3 804.3,505.0 C805.5,509.7 806.4,513.6 807.0,518.0 C807.6,522.4 808.1,525.9 808.1,531.2 C808.1,536.5 807.0,543.8 807.1,550.0 C807.2,556.2 809.5,562.5 809.0,568.7 C808.5,574.9 805.3,580.5 804.3,587.4 C803.3,594.3 803.2,606.2 803.0,610.0" fill="none" stroke="#5a5a5a" stroke-width="2.4" stroke-linecap="round" stroke-linejoin="round"/>
<path d="M638.0,707.0 C636.7,705.3 633.0,701.0 630.0,697.0 C627.0,693.0 623.7,688.2 620.0,683.0 C616.3,677.8 611.8,671.7 608.0,666.0 C604.2,660.3 600.3,655.3 597.0,649.0 C593.7,642.7 590.8,635.0 588.0,628.0 C585.2,621.0 582.5,614.2 580.0,607.0 C577.5,599.8 575.2,592.0 573.0,585.0 C570.8,578.0 568.5,570.5 566.5,565.0 C564.5,559.5 562.7,556.5 561.0,552.0 C559.3,547.5 557.8,543.0 556.5,538.0 C555.2,533.0 553.9,527.7 553.0,522.0 C552.1,516.3 551.2,510.2 551.0,504.0 C550.8,497.8 551.2,492.2 552.0,485.0 C552.8,477.8 554.3,467.7 556.0,461.0 C557.7,454.3 559.3,450.5 562.0,445.0 C564.7,439.5 570.3,430.8 572.0,428.0" fill="none" stroke="#5a5a5a" stroke-width="1.7" stroke-linecap="butt" stroke-linejoin="round" stroke-dasharray="1.6 2.6"/>
<path d="M638.6,700.6 L648.2,692.7 l-2.5,-3.1 M638.4,694.8 l1.7,-1.4 M633.0,693.5 L643.1,686.1 l-2.4,-3.2 M633.1,687.7 l1.8,-1.3 M627.7,686.1 L637.9,678.9 l-2.3,-3.3 M627.9,680.4 l1.8,-1.3 M622.4,678.6 L632.6,671.3 l-2.3,-3.3 M622.6,672.8 l1.8,-1.3 M617.1,671.1 L627.2,663.9 l-2.3,-3.3 M617.2,665.4 l1.8,-1.3 M611.8,663.7 L622.2,656.6 l-2.2,-3.3 M612.2,657.9 l1.8,-1.2 M606.6,656.1 L616.9,649.0 l-2.3,-3.3 M606.9,650.3 l1.8,-1.2 M601.9,648.6 L612.9,642.6 l-1.9,-3.5 M602.8,642.9 l1.9,-1.1 M598.1,640.8 L609.5,635.8 l-1.6,-3.7 M599.4,635.2 l2.0,-0.9 M594.6,632.4 L606.2,627.8 l-1.5,-3.7 M596.2,626.8 l2.0,-0.8 M591.2,623.9 L602.8,619.2 l-1.5,-3.7 M592.7,618.3 l2.0,-0.8 M587.9,615.4 L599.5,610.9 l-1.4,-3.7 M589.5,609.8 l2.1,-0.8 M584.7,606.8 L596.5,602.7 l-1.3,-3.8 M586.5,601.3 l2.1,-0.7 M581.8,598.2 L593.8,594.5 l-1.2,-3.8 M583.8,592.8 l2.1,-0.7 M579.1,589.5 L591.1,585.8 l-1.2,-3.8 M581.1,584.1 l2.1,-0.6 M576.3,580.7 L588.3,576.9 l-1.2,-3.8 M578.3,575.2 l2.1,-0.7 M573.6,571.9 L585.5,568.1 l-1.2,-3.8 M575.5,566.5 l2.1,-0.7 M570.6,563.0 L582.3,558.7 l-1.4,-3.8 M572.2,557.5 l2.1,-0.8 M566.8,554.3 L578.2,549.1 l-1.6,-3.6 M568.1,548.6 l2.0,-0.9 M563.7,546.1 L575.5,542.0 l-1.3,-3.8 M565.5,540.6 l2.1,-0.7 M561.0,537.6 L573.1,534.3 l-1.0,-3.9 M563.2,532.2 l2.1,-0.6 M558.9,528.8 L571.1,526.2 l-0.9,-3.9 M561.3,523.6 l2.1,-0.5 M557.2,520.1 L569.6,518.1 l-0.6,-4.0 M560.0,515.0 l2.2,-0.3 M556.0,511.2 L568.4,509.8 l-0.4,-4.0 M559.0,506.2 l2.2,-0.2 M555.5,502.4 L568.0,502.2 l-0.1,-4.0 M558.9,497.8 l2.2,-0.0 M555.7,493.6 L568.2,494.4 l0.3,-4.0 M559.5,489.2 l2.2,0.1 M556.6,484.7 L569.0,486.1 l0.5,-4.0 M560.6,480.5 l2.2,0.3 M557.8,475.7 L570.1,477.6 l0.6,-4.0 M561.9,471.7 l2.2,0.3 M559.3,466.8 L571.6,469.2 l0.8,-3.9 M563.7,463.0 l2.2,0.4 M561.4,458.3 L573.4,462.0 l1.2,-3.8 M566.1,455.0 l2.1,0.6 M564.5,450.3 L575.9,455.5 l1.7,-3.6 M569.6,447.6 l2.0,0.9 M568.5,442.5 L579.3,448.7 l2.0,-3.5 M573.8,440.3 l1.9,1.1 M573.1,434.7 L583.8,441.3 l2.1,-3.4 M578.5,432.7 l1.9,1.2 " fill="none" stroke="#5a5a5a" stroke-width="2.5" stroke-linecap="butt"/>
<path d="M572.0,428.0 C574.2,426.8 580.2,422.7 585.0,421.0 C589.8,419.3 593.9,418.7 600.6,417.8 C607.3,416.9 616.6,416.1 625.0,415.5 C633.4,414.9 643.4,414.7 651.2,414.0 C659.0,413.3 665.2,412.3 672.0,411.5 C678.8,410.7 685.0,409.4 691.7,409.0 C698.4,408.6 706.5,408.7 712.0,409.0 C717.5,409.3 721.5,410.3 725.0,411.0 C728.5,411.7 729.5,411.3 733.0,413.0 C736.5,414.7 740.7,416.9 746.0,421.0 C751.3,425.1 759.3,430.7 765.0,437.5 C770.7,444.3 775.7,453.2 780.0,462.0 C784.3,470.8 787.9,481.6 791.0,490.0 C794.1,498.4 797.1,505.0 798.7,512.5 C800.3,520.0 800.9,527.8 800.6,535.0 C800.3,542.2 798.6,549.9 797.0,555.6 C795.4,561.3 792.6,563.8 791.0,569.0 C789.4,574.2 788.4,580.8 787.5,587.0 C786.6,593.2 785.9,602.8 785.6,606.0" fill="none" stroke="#5a5a5a" stroke-width="1.7" stroke-linecap="butt" stroke-linejoin="round" stroke-dasharray="1.6 2.6"/>
<path d="M578.3,429.5 L584.7,440.2 l3.4,-2.1 M584.0,430.1 l1.1,1.9 M585.8,425.5 L590.6,437.1 l3.7,-1.5 M591.4,427.0 l0.8,2.0 M593.7,423.4 L595.9,435.7 l3.9,-0.7 M598.9,426.0 l0.4,2.2 M602.6,422.1 L604.2,434.5 l4.0,-0.5 M607.6,425.0 l0.3,2.2 M611.6,421.1 L612.7,433.6 l4.0,-0.4 M616.5,424.2 l0.2,2.2 M620.7,420.3 L621.7,432.8 l4.0,-0.3 M625.6,423.5 l0.2,2.2 M629.8,419.7 L630.5,432.2 l4.0,-0.2 M634.6,422.9 l0.1,2.2 M638.9,419.2 L639.5,431.7 l4.0,-0.2 M643.7,422.5 l0.1,2.2 M648.2,418.7 L649.1,431.2 l4.0,-0.3 M653.0,421.9 l0.1,2.2 M657.6,417.9 L659.0,430.3 l4.0,-0.5 M662.5,420.8 l0.2,2.2 M666.8,416.7 L668.5,429.1 l4.0,-0.5 M671.8,419.6 l0.3,2.2 M676.0,415.5 L677.7,427.9 l4.0,-0.6 M681.0,418.3 l0.3,2.2 M685.0,414.2 L686.7,426.6 l4.0,-0.5 M690.0,417.1 l0.3,2.2 M693.8,413.4 L694.4,425.9 l4.0,-0.2 M698.6,416.7 l0.1,2.2 M702.8,413.2 L702.7,425.7 l4.0,0.0 M707.3,416.7 l-0.0,2.2 M711.7,413.5 L711.0,426.0 l4.0,0.2 M716.1,417.2 l-0.1,2.2 M720.2,414.6 L717.8,426.9 l3.9,0.8 M724.1,418.9 l-0.4,2.2 M728.9,416.2 L725.5,428.2 l3.8,1.1 M732.4,420.8 l-0.6,2.1 M736.1,419.7 L729.8,430.5 l3.4,2.0 M738.3,425.1 l-1.1,1.9 M743.3,424.6 L735.7,434.5 l3.2,2.4 M744.8,430.2 l-1.3,1.8 M750.6,430.1 L742.9,440.0 l3.2,2.5 M752.0,435.7 l-1.4,1.7 M757.3,435.8 L748.7,445.0 l2.9,2.7 M758.2,441.5 l-1.5,1.6 M762.9,442.1 L753.1,449.8 l2.5,3.2 M763.0,447.9 l-1.7,1.4 M767.9,449.3 L757.3,455.9 l2.1,3.4 M767.4,455.1 l-1.9,1.2 M772.4,457.0 L761.4,463.0 l1.9,3.5 M771.5,462.8 l-1.9,1.0 M776.5,465.1 L765.2,470.5 l1.7,3.6 M775.3,470.7 l-2.0,1.0 M780.0,473.2 L768.4,477.9 l1.5,3.7 M778.5,478.8 l-2.0,0.8 M783.2,481.7 L771.5,485.9 l1.4,3.8 M781.5,487.2 l-2.1,0.8 M786.3,490.3 L774.6,494.7 l1.4,3.8 M784.6,495.9 l-2.1,0.8 M789.6,499.0 L778.0,503.5 l1.4,3.7 M788.0,504.6 l-2.1,0.8 M792.7,507.4 L780.7,511.1 l1.2,3.8 M790.7,512.8 l-2.1,0.7 M794.8,515.7 L782.4,517.9 l0.7,3.9 M792.1,520.9 l-2.2,0.4 M795.9,524.4 L783.4,525.4 l0.3,4.0 M792.7,529.3 l-2.2,0.2 M796.2,533.2 L783.7,532.9 l-0.1,4.0 M792.6,537.7 l-2.2,-0.0 M795.4,541.8 L783.0,540.0 l-0.6,4.0 M791.3,545.8 l-2.2,-0.3 M793.7,550.4 L781.6,547.4 l-0.9,3.9 M789.2,554.0 l-2.1,-0.5 M791.2,558.1 L780.0,552.5 l-1.8,3.6 M786.0,560.7 l-2.0,-1.0 M786.9,567.0 L775.0,563.2 l-1.2,3.8 M782.2,570.3 l-2.1,-0.7 M784.6,576.5 L772.3,574.2 l-0.7,3.9 M780.3,580.4 l-2.2,-0.4 M783.1,585.8 L770.8,584.0 l-0.6,4.0 M779.0,589.8 l-2.2,-0.3 M782.0,595.2 L769.6,594.0 l-0.4,4.0 M778.1,599.4 l-2.2,-0.2 M781.2,604.4 L768.8,603.3 l-0.3,4.0 M777.3,608.6 l-2.2,-0.2 " fill="none" stroke="#5a5a5a" stroke-width="2.5" stroke-linecap="butt"/>
<path d="M601.0,445.5 L707.0,426.5" fill="none" stroke="#5a5a5a" stroke-width="2.4" stroke-linecap="round" stroke-linejoin="round"/>
<path d="M720.0,436.0 L767.5,519.5" fill="none" stroke="#5a5a5a" stroke-width="5.6" stroke-linecap="butt" stroke-linejoin="round"/>
<path d="M590.8,458.0 L588.0,499.0" fill="none" stroke="#5a5a5a" stroke-width="5.2" stroke-linecap="butt" stroke-linejoin="round"/>
<path d="M613.3,521.0 L609.8,560.0" fill="none" stroke="#5a5a5a" stroke-width="5.2" stroke-linecap="butt" stroke-linejoin="round"/>
<path d="M772.8,536.5 L763.1,568.7 L753.7,599.0" fill="none" stroke="#5a5a5a" stroke-width="5.2" stroke-linecap="butt" stroke-linejoin="round"/>
<path d="M666.4,503.6 L737.0,507.6" fill="none" stroke="#5a5a5a" stroke-width="2.4" stroke-linecap="round" stroke-linejoin="round"/>
<path d="M666.4,507.2 L720.0,510.2" fill="none" stroke="#5a5a5a" stroke-width="1.2" stroke-linecap="round" stroke-linejoin="round"/>
<g transform="translate(656.5,442.5) rotate(-8.5)" stroke="#5a5a5a" stroke-linejoin="round"><rect x="-41.5" y="-10.0" width="83.0" height="20.0" fill="#ebebeb" stroke-width="2.8"/><path d="M-41.5,10.0 L-36.9,1.6 L-32.3,10.0 Z M-32.3,10.0 L-27.7,1.6 L-23.1,10.0 Z M-23.1,10.0 L-18.4,1.6 L-13.8,10.0 Z M-13.8,10.0 L-9.2,1.6 L-4.6,10.0 Z M-4.6,10.0 L-0.0,1.6 L4.6,10.0 Z M4.6,10.0 L9.2,1.6 L13.8,10.0 Z M13.8,10.0 L18.4,1.6 L23.1,10.0 Z M23.1,10.0 L27.7,1.6 L32.3,10.0 Z M32.3,10.0 L36.9,1.6 L41.5,10.0 Z " fill="#5a5a5a" stroke="none"/><path d="M-41.5,10.0 H41.5" stroke-width="4" fill="none"/></g>
<g transform="translate(740.6,535.0) rotate(57.7)" stroke="#5a5a5a" stroke-linejoin="round"><rect x="-33.0" y="-11.5" width="66.0" height="23.0" fill="#ebebeb" stroke-width="2.8"/><path d="M-33.0,0 H33.0" stroke-width="1.6" fill="none"/><path d="M-33.0,11.5 L-27.5,1.8 L-22.0,11.5 Z M-33.0,-0.5 L-27.5,-9.7 L-22.0,-0.5 Z M-22.0,11.5 L-16.5,1.8 L-11.0,11.5 Z M-22.0,-0.5 L-16.5,-9.7 L-11.0,-0.5 Z M-11.0,11.5 L-5.5,1.8 L0.0,11.5 Z M-11.0,-0.5 L-5.5,-9.7 L0.0,-0.5 Z M0.0,11.5 L5.5,1.8 L11.0,11.5 Z M0.0,-0.5 L5.5,-9.7 L11.0,-0.5 Z M11.0,11.5 L16.5,1.8 L22.0,11.5 Z M11.0,-0.5 L16.5,-9.7 L22.0,-0.5 Z M22.0,11.5 L27.5,1.8 L33.0,11.5 Z M22.0,-0.5 L27.5,-9.7 L33.0,-0.5 Z " fill="#5a5a5a" stroke="none"/></g>
<g transform="translate(744.6,580.0) rotate(113)" stroke="#5a5a5a" stroke-linejoin="round"><rect x="-20.0" y="-13.0" width="40.0" height="26.0" fill="#ebebeb" stroke-width="2.8"/><path d="M-20.0,0 H20.0" stroke-width="1.6" fill="none"/><path d="M-20.0,13.0 L-15.0,2.1 L-10.0,13.0 Z M-20.0,-0.5 L-15.0,-10.9 L-10.0,-0.5 Z M-10.0,13.0 L-5.0,2.1 L0.0,13.0 Z M-10.0,-0.5 L-5.0,-10.9 L0.0,-0.5 Z M0.0,13.0 L5.0,2.1 L10.0,13.0 Z M0.0,-0.5 L5.0,-10.9 L10.0,-0.5 Z M10.0,13.0 L15.0,2.1 L20.0,13.0 Z M10.0,-0.5 L15.0,-10.9 L20.0,-0.5 Z " fill="#5a5a5a" stroke="none"/></g>
<path d="M581.5,500 H597 V516 Q597,523 589,523 Q581.5,523 581.5,516 Z" fill="#ebebeb" stroke="#5a5a5a" stroke-width="3" stroke-linejoin="round"/>
<rect x="598" y="504" width="19" height="14" fill="#ebebeb" stroke="#5a5a5a" stroke-width="3" stroke-linejoin="round"/>
<path d="M598,504 L617,518 M617,504 L598,518" stroke="#5a5a5a" stroke-width="1.5"/>
<path d="M617.5,521.5 V495 Q617.5,485 627.5,485 Q637.5,485 637.5,495 V521.5 Z" fill="#ebebeb" stroke="#5a5a5a" stroke-width="3" stroke-linejoin="round"/>
<path d="M624,521 V497 Q624,492 627.5,492 Q631,492 631,497 V521" fill="none" stroke="#5a5a5a" stroke-width="1.6"/>
<rect x="637.5" y="501" width="10.5" height="19" fill="#ebebeb" stroke="#5a5a5a" stroke-width="3" stroke-linejoin="round"/>
<path d="M637.5,501 L648,520 M648,501 L637.5,520" stroke="#5a5a5a" stroke-width="1.5"/>
<path d="M648,521.5 V495 Q648,485 657.5,485 Q667,485 667,495 V521.5 Z" fill="#ebebeb" stroke="#5a5a5a" stroke-width="3" stroke-linejoin="round"/>
<path d="M654,521 V497 Q654,492 657.5,492 Q661,492 661,497 V521" fill="none" stroke="#5a5a5a" stroke-width="1.6"/>
<path d="M648,521.5 L657.5,508 L667,521.5 Z M617.5,521.5 L627.5,508 L637.5,521.5 Z" fill="#5a5a5a" opacity="0.85"/>
<path d="M600.6,522.0 C600.2,525.3 600.5,535.5 598.0,541.8 C595.5,548.0 590.7,554.8 585.4,559.5 C580.1,564.2 569.2,568.2 566.0,570.0" fill="none" stroke="#5a5a5a" stroke-width="1.8" stroke-linecap="round" stroke-linejoin="round"/>
<path d="M594.0,522.0 C593.5,525.0 593.3,534.5 591.0,540.0 C588.7,545.5 584.7,551.0 580.0,555.0 C575.3,559.0 565.8,562.5 563.0,564.0" fill="none" stroke="#5a5a5a" stroke-width="1.4" stroke-linecap="butt" stroke-linejoin="round" stroke-dasharray="4 2.4 1.6 2.4"/>
<g transform="translate(621.5,574.0) rotate(95)" stroke="#5a5a5a" stroke-linejoin="round"><rect x="-18.0" y="-13.5" width="36.0" height="27.0" fill="#ebebeb" stroke-width="2.8"/><path d="M-18.0,0 H18.0" stroke-width="1.6" fill="none"/><path d="M-18.0,13.5 L-12.0,2.2 L-6.0,13.5 Z M-18.0,-0.5 L-12.0,-11.3 L-6.0,-0.5 Z M-6.0,13.5 L0.0,2.2 L6.0,13.5 Z M-6.0,-0.5 L0.0,-11.3 L6.0,-0.5 Z M6.0,13.5 L12.0,2.2 L18.0,13.5 Z M6.0,-0.5 L12.0,-11.3 L18.0,-0.5 Z " fill="#5a5a5a" stroke="none"/></g>
<path d="M627.0,614.0 L625.3,651.0 L638.4,675.0 L692.8,684.0 L724.5,651.0" fill="none" stroke="#5a5a5a" stroke-width="4.8" stroke-linecap="butt" stroke-linejoin="round"/>
<g transform="translate(643.5,612.0) rotate(10)" fill="#eeeeee" stroke="#5a5a5a" stroke-width="2" stroke-linejoin="round"><rect x="-10.5" y="-6.5" width="21.0" height="13.0"/><path d="M-6.3,0.0 L6.3,0.0" stroke-width="1.56"/><path d="M-10.5,-6.5 L-6.3,0.0 L-10.5,6.5 M10.5,-6.5 L6.3,0.0 L10.5,6.5" fill="none" stroke-width="1.56"/></g>
<g transform="translate(689.0,615.5) rotate(11)" stroke="#5a5a5a" stroke-linejoin="round"><rect x="-36.5" y="-12.5" width="73.0" height="25.0" fill="#ebebeb" stroke-width="2.8"/><path d="M-36.5,0 H36.5" stroke-width="1.6" fill="none"/><path d="M-36.5,12.5 L-30.4,2.0 L-24.3,12.5 Z M-36.5,-0.5 L-30.4,-10.5 L-24.3,-0.5 Z M-24.3,12.5 L-18.3,2.0 L-12.2,12.5 Z M-24.3,-0.5 L-18.3,-10.5 L-12.2,-0.5 Z M-12.2,12.5 L-6.1,2.0 L-0.0,12.5 Z M-12.2,-0.5 L-6.1,-10.5 L-0.0,-0.5 Z M0.0,12.5 L6.1,2.0 L12.2,12.5 Z M0.0,-0.5 L6.1,-10.5 L12.2,-0.5 Z M12.2,12.5 L18.2,2.0 L24.3,12.5 Z M12.2,-0.5 L18.2,-10.5 L24.3,-0.5 Z M24.3,12.5 L30.4,2.0 L36.5,12.5 Z M24.3,-0.5 L30.4,-10.5 L36.5,-0.5 Z " fill="#5a5a5a" stroke="none"/></g>
<circle cx="620.2" cy="602.5" r="13.2" fill="#ebebeb" stroke="#5a5a5a" stroke-width="2.6"/>
<circle cx="620.2" cy="602.5" r="1.2" fill="#5a5a5a"/>
<g transform="translate(661.2,647.3) rotate(10)" fill="#ebebeb" stroke="#5a5a5a" stroke-width="2.2"><rect x="-18.5" y="-17.5" width="37" height="35"/><rect x="-11" y="-10" width="22" height="20" stroke-width="1.4"/><path d="M-18.5,-17.5 L18.5,17.5 M18.5,-17.5 L-18.5,17.5" stroke-width="1.3"/><circle r="7.5"/><circle r="1.2" fill="#5a5a5a"/></g>
<path d="M624.7,671.5 L617.4,674.6 M628.7,678.7 L622.3,683.5 M635.0,683.4 L631.7,690.7 M642.9,686.2 L640.7,693.9 M651.1,688.1 L649.4,695.9 M659.4,689.9 L657.8,697.7 M667.7,691.7 L666.0,699.5 M676.0,693.4 L674.5,701.3 M684.3,694.8 L683.3,702.7 M692.6,695.1 L693.4,703.1 M700.3,692.9 L704.3,699.9 M706.7,687.8 L712.4,693.5 M712.7,681.9 L718.5,687.4 M718.2,675.5 L724.5,680.4 M723.3,668.7 L729.7,673.4 " fill="none" stroke="#5a5a5a" stroke-width="1.8"/>
<circle cx="594.3" cy="450.2" r="8.8" fill="#ebebeb" stroke="#5a5a5a" stroke-width="2.6"/>
<circle cx="594.3" cy="450.2" r="1.2" fill="#5a5a5a"/>
<circle cx="714.5" cy="429.6" r="8.6" fill="#ebebeb" stroke="#5a5a5a" stroke-width="2.6"/>
<circle cx="714.5" cy="429.6" r="1.2" fill="#5a5a5a"/>
<circle cx="770.6" cy="527.3" r="9.2" fill="#ebebeb" stroke="#5a5a5a" stroke-width="2.6"/>
<circle cx="770.6" cy="527.3" r="1.2" fill="#5a5a5a"/>
<circle cx="659.3" cy="562" r="5.2" fill="none" stroke="#5a5a5a" stroke-width="1.8"/><circle cx="659.3" cy="562" r="1.3" fill="#5a5a5a"/>
<g transform="translate(690.4,564.6) rotate(27)" stroke="#5a5a5a" stroke-linecap="butt" fill="none"><path d="M0,0 L12.7,0.0" stroke-width="3.0"/><path d="M9.9,-3.3 L9.9,3.3" stroke-width="3.2"/><path d="M0,0 L7.4,7.4" stroke-width="3.0"/><path d="M7.4,4.1 L4.1,7.4" stroke-width="3.2"/><path d="M0,0 L0.0,13.2" stroke-width="3.0"/><path d="M3.3,10.3 L-3.3,10.3" stroke-width="3.2"/><path d="M0,0 L-8.0,8.0" stroke-width="3.0"/><path d="M-4.6,7.8 L-7.8,4.6" stroke-width="3.2"/><path d="M0,0 L-12.1,0.0" stroke-width="3.0"/><path d="M-9.4,3.3 L-9.4,-3.3" stroke-width="3.2"/><path d="M0,0 L-7.7,-7.7" stroke-width="3.0"/><path d="M-7.6,-4.4 L-4.4,-7.6" stroke-width="3.2"/><path d="M0,0 L-0.0,-13.1" stroke-width="3.0"/><path d="M-3.3,-10.2 L3.3,-10.2" stroke-width="3.2"/><path d="M0,0 L7.7,-7.7" stroke-width="3.0"/><path d="M4.4,-7.6 L7.6,-4.4" stroke-width="3.2"/><circle r="2.4" fill="#5a5a5a" stroke="none"/></g>
<rect x="725" y="599.6" width="53" height="79.5" fill="#e6e6e6"/>
<g transform="translate(475.0,667.5) rotate(-5)" fill="#eeeeee" stroke="#5a5a5a" stroke-width="2.9" stroke-linejoin="round"><rect x="-8.0" y="-11.5" width="16.0" height="23.0"/><path d="M0.0,-6.4 L0.0,6.4" stroke-width="2.26"/><path d="M-8.0,-11.5 L0.0,-6.4 L8.0,-11.5 M-8.0,11.5 L0.0,6.4 L8.0,11.5" fill="none" stroke-width="2.26"/><path d="M-8.0,11.5 L0.0,6.4 L8.0,11.5 Z" fill="#5a5a5a" stroke="none"/></g>
<g transform="translate(479.0,693.0) rotate(-8)" fill="#eeeeee" stroke="#5a5a5a" stroke-width="2.9" stroke-linejoin="round"><rect x="-7.5" y="-11.5" width="15.0" height="23.0"/><path d="M0.0,-6.7 L0.0,6.7" stroke-width="2.26"/><path d="M-7.5,-11.5 L0.0,-6.7 L7.5,-11.5 M-7.5,11.5 L0.0,6.7 L7.5,11.5" fill="none" stroke-width="2.26"/></g>
<g transform="translate(486.0,716.0) rotate(-20)" fill="#eeeeee" stroke="#5a5a5a" stroke-width="2.9" stroke-linejoin="round"><rect x="-8.0" y="-13.0" width="16.0" height="26.0"/><path d="M0.0,-7.9 L0.0,7.9" stroke-width="2.26"/><path d="M-8.0,-13.0 L0.0,-7.9 L8.0,-13.0 M-8.0,13.0 L0.0,7.9 L8.0,13.0" fill="none" stroke-width="2.26"/></g>
<g transform="translate(514.5,644.5) rotate(-10)" fill="#eeeeee" stroke="#5a5a5a" stroke-width="2.9" stroke-linejoin="round"><rect x="-11.0" y="-7.5" width="22.0" height="15.0"/><path d="M-6.2,0.0 L6.2,0.0" stroke-width="2.26"/><path d="M-11.0,-7.5 L-6.2,0.0 L-11.0,7.5 M11.0,-7.5 L6.2,0.0 L11.0,7.5" fill="none" stroke-width="2.26"/><path d="M-11.0,-7.5 L-6.2,0.0 L-11.0,7.5 Z" fill="#5a5a5a" stroke="none"/></g>
<g transform="translate(538.0,640.0) rotate(-10)" fill="#eeeeee" stroke="#5a5a5a" stroke-width="2.9" stroke-linejoin="round"><rect x="-12.0" y="-7.0" width="24.0" height="14.0"/><path d="M-7.5,0.0 L7.5,0.0" stroke-width="2.26"/><path d="M-12.0,-7.0 L-7.5,0.0 L-12.0,7.0 M12.0,-7.0 L7.5,0.0 L12.0,7.0" fill="none" stroke-width="2.26"/><path d="M-12.0,-7.0 L-7.5,0.0 L-12.0,7.0 Z" fill="#5a5a5a" stroke="none"/></g>
<g transform="translate(516.5,662.0) rotate(-5)" fill="#eeeeee" stroke="#5a5a5a" stroke-width="2.9" stroke-linejoin="round"><rect x="-10.5" y="-7.0" width="21.0" height="14.0"/><path d="M-6.0,0.0 L6.0,0.0" stroke-width="2.26"/><path d="M-10.5,-7.0 L-6.0,0.0 L-10.5,7.0 M10.5,-7.0 L6.0,0.0 L10.5,7.0" fill="none" stroke-width="2.26"/></g>
<g transform="translate(516.0,681.5) rotate(0)" fill="#eeeeee" stroke="#5a5a5a" stroke-width="2.9" stroke-linejoin="round"><rect x="-7.5" y="-10.5" width="15.0" height="21.0"/><path d="M0.0,-5.7 L0.0,5.7" stroke-width="2.26"/><path d="M-7.5,-10.5 L0.0,-5.7 L7.5,-10.5 M-7.5,10.5 L0.0,5.7 L7.5,10.5" fill="none" stroke-width="2.26"/></g>
<g transform="translate(512.5,699.0) rotate(-5)" fill="#eeeeee" stroke="#5a5a5a" stroke-width="2.9" stroke-linejoin="round"><rect x="-11.5" y="-7.5" width="23.0" height="15.0"/><path d="M-6.7,0.0 L6.7,0.0" stroke-width="2.26"/><path d="M-11.5,-7.5 L-6.7,0.0 L-11.5,7.5 M11.5,-7.5 L6.7,0.0 L11.5,7.5" fill="none" stroke-width="2.26"/></g>
<g transform="translate(543.0,658.0) rotate(-5)" fill="#eeeeee" stroke="#5a5a5a" stroke-width="2.9" stroke-linejoin="round"><rect x="-7.5" y="-11.0" width="15.0" height="22.0"/><path d="M0.0,-6.2 L0.0,6.2" stroke-width="2.26"/><path d="M-7.5,-11.0 L0.0,-6.2 L7.5,-11.0 M-7.5,11.0 L0.0,6.2 L7.5,11.0" fill="none" stroke-width="2.26"/></g>
<g transform="translate(562.0,634.0) rotate(-25)" fill="#eeeeee" stroke="#5a5a5a" stroke-width="2.9" stroke-linejoin="round"><rect x="-7.0" y="-10.0" width="14.0" height="20.0"/><path d="M0.0,-5.5 L0.0,5.5" stroke-width="2.26"/><path d="M-7.0,-10.0 L0.0,-5.5 L7.0,-10.0 M-7.0,10.0 L0.0,5.5 L7.0,10.0" fill="none" stroke-width="2.26"/></g>
<g transform="translate(577.0,628.0) rotate(-25)" fill="#eeeeee" stroke="#5a5a5a" stroke-width="2.9" stroke-linejoin="round"><rect x="-8.0" y="-9.0" width="16.0" height="18.0"/><path d="M0.0,-3.9 L0.0,3.9" stroke-width="2.26"/><path d="M-8.0,-9.0 L0.0,-3.9 L8.0,-9.0 M-8.0,9.0 L0.0,3.9 L8.0,9.0" fill="none" stroke-width="2.26"/><path d="M-8.0,9.0 L0.0,3.9 L8.0,9.0 Z" fill="#5a5a5a" stroke="none"/></g>
<g transform="translate(576.0,656.0) rotate(-40)" fill="#eeeeee" stroke="#5a5a5a" stroke-width="2.9" stroke-linejoin="round"><rect x="-7.0" y="-12.0" width="14.0" height="24.0"/><path d="M0.0,-7.5 L0.0,7.5" stroke-width="2.26"/><path d="M-7.0,-12.0 L0.0,-7.5 L7.0,-12.0 M-7.0,12.0 L0.0,7.5 L7.0,12.0" fill="none" stroke-width="2.26"/></g>
<g transform="translate(595.0,671.0) rotate(-25)" fill="#eeeeee" stroke="#5a5a5a" stroke-width="2.9" stroke-linejoin="round"><rect x="-13.0" y="-6.5" width="26.0" height="13.0"/><path d="M-8.8,0.0 L8.8,0.0" stroke-width="2.26"/><path d="M-13.0,-6.5 L-8.8,0.0 L-13.0,6.5 M13.0,-6.5 L8.8,0.0 L13.0,6.5" fill="none" stroke-width="2.26"/></g>
<g transform="translate(607.0,686.5) rotate(-35)" fill="#eeeeee" stroke="#5a5a5a" stroke-width="2.9" stroke-linejoin="round"><rect x="-7.5" y="-12.0" width="15.0" height="24.0"/><path d="M0.0,-7.2 L0.0,7.2" stroke-width="2.26"/><path d="M-7.5,-12.0 L0.0,-7.2 L7.5,-12.0 M-7.5,12.0 L0.0,7.2 L7.5,12.0" fill="none" stroke-width="2.26"/></g>
<g transform="translate(623.5,703.0) rotate(-30)" fill="#eeeeee" stroke="#5a5a5a" stroke-width="2.9" stroke-linejoin="round"><rect x="-13.0" y="-7.5" width="26.0" height="15.0"/><path d="M-8.2,0.0 L8.2,0.0" stroke-width="2.26"/><path d="M-13.0,-7.5 L-8.2,0.0 L-13.0,7.5 M13.0,-7.5 L8.2,0.0 L13.0,7.5" fill="none" stroke-width="2.26"/></g>
<g transform="translate(655.0,711.0) rotate(12)" fill="#eeeeee" stroke="#5a5a5a" stroke-width="2.9" stroke-linejoin="round"><rect x="-13.5" y="-7.0" width="27.0" height="14.0"/><path d="M-9.0,0.0 L9.0,0.0" stroke-width="2.26"/><path d="M-13.5,-7.0 L-9.0,0.0 L-13.5,7.0 M13.5,-7.0 L9.0,0.0 L13.5,7.0" fill="none" stroke-width="2.26"/></g>
<g transform="translate(526.0,718.0) rotate(-25)" fill="#eeeeee" stroke="#5a5a5a" stroke-width="2.9" stroke-linejoin="round"><rect x="-13.0" y="-8.5" width="26.0" height="17.0"/><path d="M-7.6,0.0 L7.6,0.0" stroke-width="2.26"/><path d="M-13.0,-8.5 L-7.6,0.0 L-13.0,8.5 M13.0,-8.5 L7.6,0.0 L13.0,8.5" fill="none" stroke-width="2.26"/><path d="M-13.0,-8.5 L-7.6,0.0 L-13.0,8.5 Z" fill="#5a5a5a" stroke="none"/></g>
<g transform="translate(547.5,711.0) rotate(-20)" fill="#eeeeee" stroke="#5a5a5a" stroke-width="2.9" stroke-linejoin="round"><rect x="-13.0" y="-8.0" width="26.0" height="16.0"/><path d="M-7.9,0.0 L7.9,0.0" stroke-width="2.26"/><path d="M-13.0,-8.0 L-7.9,0.0 L-13.0,8.0 M13.0,-8.0 L7.9,0.0 L13.0,8.0" fill="none" stroke-width="2.26"/></g>
<g transform="translate(571.0,706.5) rotate(-25)" fill="#eeeeee" stroke="#5a5a5a" stroke-width="2.9" stroke-linejoin="round"><rect x="-13.0" y="-8.5" width="26.0" height="17.0"/><path d="M-7.6,0.0 L7.6,0.0" stroke-width="2.26"/><path d="M-13.0,-8.5 L-7.6,0.0 L-13.0,8.5 M13.0,-8.5 L7.6,0.0 L13.0,8.5" fill="none" stroke-width="2.26"/></g>
<g transform="translate(532.0,738.0) rotate(-15)" fill="#eeeeee" stroke="#5a5a5a" stroke-width="2.9" stroke-linejoin="round"><rect x="-7.0" y="-13.0" width="14.0" height="26.0"/><path d="M0.0,-8.5 L0.0,8.5" stroke-width="2.26"/><path d="M-7.0,-13.0 L0.0,-8.5 L7.0,-13.0 M-7.0,13.0 L0.0,8.5 L7.0,13.0" fill="none" stroke-width="2.26"/></g>
<g transform="translate(549.5,758.0) rotate(-20)" fill="#eeeeee" stroke="#5a5a5a" stroke-width="2.9" stroke-linejoin="round"><rect x="-7.0" y="-13.0" width="14.0" height="26.0"/><path d="M0.0,-8.5 L0.0,8.5" stroke-width="2.26"/><path d="M-7.0,-13.0 L0.0,-8.5 L7.0,-13.0 M-7.0,13.0 L0.0,8.5 L7.0,13.0" fill="none" stroke-width="2.26"/></g>
<g transform="translate(590.0,719.0) rotate(-35)" fill="#eeeeee" stroke="#5a5a5a" stroke-width="2.9" stroke-linejoin="round"><rect x="-7.0" y="-11.0" width="14.0" height="22.0"/><path d="M0.0,-6.5 L0.0,6.5" stroke-width="2.26"/><path d="M-7.0,-11.0 L0.0,-6.5 L7.0,-11.0 M-7.0,11.0 L0.0,6.5 L7.0,11.0" fill="none" stroke-width="2.26"/></g>
<g transform="translate(595.5,746.0) rotate(-25)" fill="#eeeeee" stroke="#5a5a5a" stroke-width="2.9" stroke-linejoin="round"><rect x="-13.0" y="-7.5" width="26.0" height="15.0"/><path d="M-8.2,0.0 L8.2,0.0" stroke-width="2.26"/><path d="M-13.0,-7.5 L-8.2,0.0 L-13.0,7.5 M13.0,-7.5 L8.2,0.0 L13.0,7.5" fill="none" stroke-width="2.26"/></g>
<g transform="translate(613.5,737.5) rotate(-25)" fill="#eeeeee" stroke="#5a5a5a" stroke-width="2.9" stroke-linejoin="round"><rect x="-8.0" y="-12.5" width="16.0" height="25.0"/><path d="M0.0,-7.4 L0.0,7.4" stroke-width="2.26"/><path d="M-8.0,-12.5 L0.0,-7.4 L8.0,-12.5 M-8.0,12.5 L0.0,7.4 L8.0,12.5" fill="none" stroke-width="2.26"/></g>
<g transform="translate(573.0,758.0) rotate(-25)" fill="#eeeeee" stroke="#5a5a5a" stroke-width="2.9" stroke-linejoin="round"><rect x="-13.0" y="-7.5" width="26.0" height="15.0"/><path d="M-8.2,0.0 L8.2,0.0" stroke-width="2.26"/><path d="M-13.0,-7.5 L-8.2,0.0 L-13.0,7.5 M13.0,-7.5 L8.2,0.0 L13.0,7.5" fill="none" stroke-width="2.26"/></g>
<g transform="translate(502.5,750.0) rotate(-35)" fill="#eeeeee" stroke="#5a5a5a" stroke-width="2.9" stroke-linejoin="round"><rect x="-10.0" y="-8.0" width="20.0" height="16.0"/><path d="M-4.9,0.0 L4.9,0.0" stroke-width="2.26"/><path d="M-10.0,-8.0 L-4.9,0.0 L-10.0,8.0 M10.0,-8.0 L4.9,0.0 L10.0,8.0" fill="none" stroke-width="2.26"/><path d="M-10.0,-8.0 L-4.9,0.0 L-10.0,8.0 Z" fill="#5a5a5a" stroke="none"/></g>
<g transform="translate(514.0,762.0) rotate(-35)" fill="#eeeeee" stroke="#5a5a5a" stroke-width="2.9" stroke-linejoin="round"><rect x="-7.0" y="-7.0" width="14.0" height="14.0"/><path d="M-2.5,0.0 L2.5,0.0" stroke-width="2.26"/><path d="M-7.0,-7.0 L-2.5,0.0 L-7.0,7.0 M7.0,-7.0 L2.5,0.0 L7.0,7.0" fill="none" stroke-width="2.26"/></g>
<g transform="translate(593.0,771.0) rotate(-20)" fill="#eeeeee" stroke="#5a5a5a" stroke-width="2.9" stroke-linejoin="round"><rect x="-13.0" y="-7.5" width="26.0" height="15.0"/><path d="M-8.2,0.0 L8.2,0.0" stroke-width="2.26"/><path d="M-13.0,-7.5 L-8.2,0.0 L-13.0,7.5 M13.0,-7.5 L8.2,0.0 L13.0,7.5" fill="none" stroke-width="2.26"/></g>
<g transform="translate(630.0,759.0) rotate(-40)" fill="#eeeeee" stroke="#5a5a5a" stroke-width="2.9" stroke-linejoin="round"><rect x="-8.5" y="-13.0" width="17.0" height="26.0"/><path d="M0.0,-7.6 L0.0,7.6" stroke-width="2.26"/><path d="M-8.5,-13.0 L0.0,-7.6 L8.5,-13.0 M-8.5,13.0 L0.0,7.6 L8.5,13.0" fill="none" stroke-width="2.26"/></g>
<g transform="translate(649.0,778.0) rotate(-40)" fill="#eeeeee" stroke="#5a5a5a" stroke-width="2.9" stroke-linejoin="round"><rect x="-8.5" y="-14.0" width="17.0" height="28.0"/><path d="M0.0,-8.6 L0.0,8.6" stroke-width="2.26"/><path d="M-8.5,-14.0 L0.0,-8.6 L8.5,-14.0 M-8.5,14.0 L0.0,8.6 L8.5,14.0" fill="none" stroke-width="2.26"/></g>
<g transform="translate(617.0,778.0) rotate(-25)" fill="#eeeeee" stroke="#5a5a5a" stroke-width="2.9" stroke-linejoin="round"><rect x="-13.0" y="-7.0" width="26.0" height="14.0"/><path d="M-8.5,0.0 L8.5,0.0" stroke-width="2.26"/><path d="M-13.0,-7.0 L-8.5,0.0 L-13.0,7.0 M13.0,-7.0 L8.5,0.0 L13.0,7.0" fill="none" stroke-width="2.26"/></g>
<g transform="translate(523.5,804.7) rotate(-30)" fill="#eeeeee" stroke="#5a5a5a" stroke-width="2.9" stroke-linejoin="round"><rect x="-8.5" y="-12.0" width="17.0" height="24.0"/><path d="M0.0,-6.6 L0.0,6.6" stroke-width="2.26"/><path d="M-8.5,-12.0 L0.0,-6.6 L8.5,-12.0 M-8.5,12.0 L0.0,6.6 L8.5,12.0" fill="none" stroke-width="2.26"/></g>
<g transform="translate(568.0,823.0) rotate(25)" fill="#eeeeee" stroke="#5a5a5a" stroke-width="2.9" stroke-linejoin="round"><rect x="-7.0" y="-11.0" width="14.0" height="22.0"/><path d="M0.0,-6.5 L0.0,6.5" stroke-width="2.26"/><path d="M-7.0,-11.0 L0.0,-6.5 L7.0,-11.0 M-7.0,11.0 L0.0,6.5 L7.0,11.0" fill="none" stroke-width="2.26"/></g>
<g transform="translate(587.0,829.0) rotate(25)" fill="#eeeeee" stroke="#5a5a5a" stroke-width="2.9" stroke-linejoin="round"><rect x="-7.5" y="-10.0" width="15.0" height="20.0"/><path d="M0.0,-5.2 L0.0,5.2" stroke-width="2.26"/><path d="M-7.5,-10.0 L0.0,-5.2 L7.5,-10.0 M-7.5,10.0 L0.0,5.2 L7.5,10.0" fill="none" stroke-width="2.26"/></g>
<g transform="translate(604.0,806.6) rotate(-22)" fill="#eeeeee" stroke="#5a5a5a" stroke-width="2.9" stroke-linejoin="round"><rect x="-7.5" y="-17.0" width="15.0" height="34.0"/><path d="M0.0,-12.2 L0.0,12.2" stroke-width="2.26"/><path d="M-7.5,-17.0 L0.0,-12.2 L7.5,-17.0 M-7.5,17.0 L0.0,12.2 L7.5,17.0" fill="none" stroke-width="2.26"/><path d="M-7.5,17.0 L0.0,12.2 L7.5,17.0 Z" fill="#5a5a5a" stroke="none"/></g>
<g transform="translate(632.3,811.6) rotate(-25)" fill="#eeeeee" stroke="#5a5a5a" stroke-width="2.9" stroke-linejoin="round"><rect x="-22.0" y="-8.5" width="44.0" height="17.0"/><path d="M-16.6,0.0 L16.6,0.0" stroke-width="2.26"/><path d="M-22.0,-8.5 L-16.6,0.0 L-22.0,8.5 M22.0,-8.5 L16.6,0.0 L22.0,8.5" fill="none" stroke-width="2.26"/></g>
<g transform="translate(674.7,760.7) rotate(-20)" fill="#eeeeee" stroke="#5a5a5a" stroke-width="2.9" stroke-linejoin="round"><rect x="-7.0" y="-10.0" width="14.0" height="20.0"/><path d="M0.0,-5.5 L0.0,5.5" stroke-width="2.26"/><path d="M-7.0,-10.0 L0.0,-5.5 L7.0,-10.0 M-7.0,10.0 L0.0,5.5 L7.0,10.0" fill="none" stroke-width="2.26"/></g>
<g transform="translate(691.9,763.8) rotate(-15)" fill="#eeeeee" stroke="#5a5a5a" stroke-width="2.9" stroke-linejoin="round"><rect x="-10.0" y="-7.0" width="20.0" height="14.0"/><path d="M-5.5,0.0 L5.5,0.0" stroke-width="2.26"/><path d="M-10.0,-7.0 L-5.5,0.0 L-10.0,7.0 M10.0,-7.0 L5.5,0.0 L10.0,7.0" fill="none" stroke-width="2.26"/></g>
<g transform="translate(691.0,789.0) rotate(15)" fill="#eeeeee" stroke="#5a5a5a" stroke-width="2.9" stroke-linejoin="round"><rect x="-12.0" y="-7.5" width="24.0" height="15.0"/><path d="M-7.2,0.0 L7.2,0.0" stroke-width="2.26"/><path d="M-12.0,-7.5 L-7.2,0.0 L-12.0,7.5 M12.0,-7.5 L7.2,0.0 L12.0,7.5" fill="none" stroke-width="2.26"/></g>
<g transform="translate(713.5,759.0) rotate(-15)" fill="#eeeeee" stroke="#5a5a5a" stroke-width="2.9" stroke-linejoin="round"><rect x="-12.0" y="-6.5" width="24.0" height="13.0"/><path d="M-7.8,0.0 L7.8,0.0" stroke-width="2.26"/><path d="M-12.0,-6.5 L-7.8,0.0 L-12.0,6.5 M12.0,-6.5 L7.8,0.0 L12.0,6.5" fill="none" stroke-width="2.26"/></g>
<g transform="translate(737.0,749.0) rotate(-30)" fill="#eeeeee" stroke="#5a5a5a" stroke-width="2.9" stroke-linejoin="round"><rect x="-13.0" y="-7.0" width="26.0" height="14.0"/><path d="M-8.5,0.0 L8.5,0.0" stroke-width="2.26"/><path d="M-13.0,-7.0 L-8.5,0.0 L-13.0,7.0 M13.0,-7.0 L8.5,0.0 L13.0,7.0" fill="none" stroke-width="2.26"/></g>
<g transform="translate(740.0,780.5) rotate(-15)" fill="#eeeeee" stroke="#5a5a5a" stroke-width="2.9" stroke-linejoin="round"><rect x="-11.0" y="-7.0" width="22.0" height="14.0"/><path d="M-6.5,0.0 L6.5,0.0" stroke-width="2.26"/><path d="M-11.0,-7.0 L-6.5,0.0 L-11.0,7.0 M11.0,-7.0 L6.5,0.0 L11.0,7.0" fill="none" stroke-width="2.26"/></g>
<g transform="translate(786.0,675.0) rotate(-5)" fill="#eeeeee" stroke="#5a5a5a" stroke-width="2.9" stroke-linejoin="round"><rect x="-13.5" y="-8.0" width="27.0" height="16.0"/><path d="M-8.4,0.0 L8.4,0.0" stroke-width="2.26"/><path d="M-13.5,-8.0 L-8.4,0.0 L-13.5,8.0 M13.5,-8.0 L8.4,0.0 L13.5,8.0" fill="none" stroke-width="2.26"/></g>
<g transform="translate(789.0,696.0) rotate(0)" fill="#eeeeee" stroke="#5a5a5a" stroke-width="2.9" stroke-linejoin="round"><rect x="-7.5" y="-13.0" width="15.0" height="26.0"/><path d="M0.0,-8.2 L0.0,8.2" stroke-width="2.26"/><path d="M-7.5,-13.0 L0.0,-8.2 L7.5,-13.0 M-7.5,13.0 L0.0,8.2 L7.5,13.0" fill="none" stroke-width="2.26"/></g>
<g transform="translate(543.0,682.0) rotate(-5)" fill="#eaeaea" stroke="#5a5a5a" stroke-width="2.9" stroke-linejoin="round"><rect x="-11.0" y="-13.0" width="22.0" height="26.0"/><path d="M-11.0,-13.0 L11.0,13.0 M11.0,-13.0 L-11.0,13.0" stroke-width="1.6"/></g>
<g transform="translate(579.0,739.0) rotate(-20)" fill="#eaeaea" stroke="#5a5a5a" stroke-width="2.9" stroke-linejoin="round"><rect x="-8.5" y="-8.5" width="17.0" height="17.0"/><path d="M-8.5,-8.5 L8.5,8.5 M8.5,-8.5 L-8.5,8.5" stroke-width="1.6"/></g>
<g transform="translate(530.5,774.5) rotate(-25)" fill="#eaeaea" stroke="#5a5a5a" stroke-width="2.9" stroke-linejoin="round"><rect x="-9.0" y="-11.0" width="18.0" height="22.0"/><path d="M-9.0,-11.0 L9.0,11.0 M9.0,-11.0 L-9.0,11.0" stroke-width="1.6"/></g>
<g transform="translate(553.0,804.0) rotate(-35)" fill="#eaeaea" stroke="#5a5a5a" stroke-width="2.9" stroke-linejoin="round"><rect x="-9.0" y="-11.0" width="18.0" height="22.0"/><path d="M-9.0,-11.0 L9.0,11.0 M9.0,-11.0 L-9.0,11.0" stroke-width="1.6"/></g>
<g transform="translate(774.1,748.1) rotate(-30)" fill="#eaeaea" stroke="#5a5a5a" stroke-width="2.9" stroke-linejoin="round"><rect x="-10.0" y="-9.0" width="20.0" height="18.0"/><path d="M-10.0,-9.0 L10.0,9.0 M10.0,-9.0 L-10.0,9.0" stroke-width="1.6"/></g>
<g transform="translate(722.2,786.0) rotate(-15)" fill="#eaeaea" stroke="#5a5a5a" stroke-width="2.9" stroke-linejoin="round"><rect x="-9.0" y="-9.0" width="18.0" height="18.0"/><path d="M-9.0,-9.0 L9.0,9.0 M9.0,-9.0 L-9.0,9.0" stroke-width="1.6"/></g>
<g transform="translate(702.0,854.9) rotate(-15)" fill="#eaeaea" stroke="#5a5a5a" stroke-width="2.9" stroke-linejoin="round"><rect x="-9.0" y="-11.0" width="18.0" height="22.0"/><path d="M-9.0,-11.0 L9.0,11.0 M9.0,-11.0 L-9.0,11.0" stroke-width="1.6"/></g>
<g transform="translate(559.0,727.5) rotate(30)" fill="#eeeeee" stroke="#5a5a5a" stroke-width="2.9" stroke-linejoin="round"><rect x="-7.0" y="-7.0" width="14.0" height="14.0"/><path d="M-2.5,0.0 L2.5,0.0" stroke-width="2.26"/><path d="M-7.0,-7.0 L-2.5,0.0 L-7.0,7.0 M7.0,-7.0 L2.5,0.0 L7.0,7.0" fill="none" stroke-width="2.26"/><path d="M-7.0,-7.0 L-2.5,0.0 L-7.0,7.0 Z" fill="#5a5a5a" stroke="none"/></g>
<g transform="translate(572.0,780.5) rotate(20)" fill="#eeeeee" stroke="#5a5a5a" stroke-width="2.9" stroke-linejoin="round"><rect x="-6.0" y="-6.0" width="12.0" height="12.0"/><path d="M-2.2,0.0 L2.2,0.0" stroke-width="2.26"/><path d="M-6.0,-6.0 L-2.2,0.0 L-6.0,6.0 M6.0,-6.0 L2.2,0.0 L6.0,6.0" fill="none" stroke-width="2.26"/><path d="M-6.0,-6.0 L-2.2,0.0 L-6.0,6.0 Z" fill="#5a5a5a" stroke="none"/></g>
<g transform="translate(765.3,725.3) rotate(-33)" fill="#eaeaea" stroke="#5a5a5a" stroke-width="2.9" stroke-linejoin="round"><rect x="-23.0" y="-10.5" width="46.0" height="21.0"/><path d="M-17.9,-10.5 V10.5 M-12.8,-10.5 V10.5 M-7.7,-10.5 V10.5 M-2.6,-10.5 V10.5 M2.6,-10.5 V10.5 M7.7,-10.5 V10.5 M12.8,-10.5 V10.5 M17.9,-10.5 V10.5 " stroke-width="2"/></g>
<g transform="translate(690.6,880.9) rotate(-50)" fill="#eeeeee" stroke="#5a5a5a" stroke-width="2.9" stroke-linejoin="round"><rect x="-16.0" y="-8.0" width="32.0" height="16.0"/><path d="M-10.9,0.0 L10.9,0.0" stroke-width="2.26"/><path d="M-16.0,-8.0 L-10.9,0.0 L-16.0,8.0 M16.0,-8.0 L10.9,0.0 L16.0,8.0" fill="none" stroke-width="2.26"/></g>
<g transform="translate(678.0,893.0) rotate(-50)" fill="#eeeeee" stroke="#5a5a5a" stroke-width="2.9" stroke-linejoin="round"><rect x="-7.0" y="-6.0" width="14.0" height="12.0"/><path d="M-3.2,0.0 L3.2,0.0" stroke-width="2.26"/><path d="M-7.0,-6.0 L-3.2,0.0 L-7.0,6.0 M7.0,-6.0 L3.2,0.0 L7.0,6.0" fill="none" stroke-width="2.26"/></g>
<g transform="translate(753.6,695.4) rotate(33)" stroke="#5a5a5a" stroke-linecap="butt" fill="none"><path d="M0,0 L12.0,0.0" stroke-width="3.0"/><path d="M9.3,-3.3 L9.3,3.3" stroke-width="3.2"/><path d="M0,0 L7.3,7.3" stroke-width="3.0"/><path d="M7.3,4.1 L4.1,7.3" stroke-width="3.2"/><path d="M0,0 L0.0,13.0" stroke-width="3.0"/><path d="M3.3,10.2 L-3.3,10.2" stroke-width="3.2"/><path d="M0,0 L-7.4,7.4" stroke-width="3.0"/><path d="M-4.1,7.4 L-7.4,4.1" stroke-width="3.2"/><path d="M0,0 L-11.8,0.0" stroke-width="3.0"/><path d="M-9.2,3.3 L-9.2,-3.3" stroke-width="3.2"/><path d="M0,0 L-7.4,-7.4" stroke-width="3.0"/><path d="M-7.4,-4.2 L-4.2,-7.4" stroke-width="3.2"/><path d="M0,0 L-0.0,-12.9" stroke-width="3.0"/><path d="M-3.3,-10.0 L3.3,-10.0" stroke-width="3.2"/><path d="M0,0 L7.5,-7.5" stroke-width="3.0"/><path d="M4.2,-7.4 L7.4,-4.2" stroke-width="3.2"/><circle r="2.4" fill="#5a5a5a" stroke="none"/></g>
<g transform="translate(723.2,719.4) rotate(4)" stroke="#5a5a5a" stroke-linecap="butt" fill="none"><path d="M0,0 L11.9,0.0" stroke-width="3.0"/><path d="M9.3,-3.3 L9.3,3.3" stroke-width="3.2"/><path d="M0,0 L7.6,7.6" stroke-width="3.0"/><path d="M7.6,4.3 L4.3,7.6" stroke-width="3.2"/><path d="M0,0 L0.0,12.9" stroke-width="3.0"/><path d="M3.3,10.0 L-3.3,10.0" stroke-width="3.2"/><path d="M0,0 L-7.4,7.4" stroke-width="3.0"/><path d="M-4.2,7.4 L-7.4,4.2" stroke-width="3.2"/><path d="M0,0 L-12.1,0.0" stroke-width="3.0"/><path d="M-9.4,3.3 L-9.4,-3.3" stroke-width="3.2"/><path d="M0,0 L-7.5,-7.5" stroke-width="3.0"/><path d="M-7.5,-4.3 L-4.3,-7.5" stroke-width="3.2"/><path d="M0,0 L-0.0,-13.4" stroke-width="3.0"/><path d="M-3.3,-10.5 L3.3,-10.5" stroke-width="3.2"/><path d="M0,0 L7.9,-7.9" stroke-width="3.0"/><path d="M4.5,-7.8 L7.8,-4.5" stroke-width="3.2"/><circle r="2.4" fill="#5a5a5a" stroke="none"/></g>
<g transform="translate(447.6,785.0) rotate(39)" stroke="#5a5a5a" stroke-linecap="butt" fill="none"><path d="M0,0 L12.1,0.0" stroke-width="3.0"/><path d="M9.5,-3.3 L9.5,3.3" stroke-width="3.2"/><path d="M0,0 L7.4,7.4" stroke-width="3.0"/><path d="M7.4,4.2 L4.2,7.4" stroke-width="3.2"/><path d="M0,0 L0.0,13.4" stroke-width="3.0"/><path d="M3.3,10.5 L-3.3,10.5" stroke-width="3.2"/><path d="M0,0 L-7.7,7.7" stroke-width="3.0"/><path d="M-4.4,7.7 L-7.7,4.4" stroke-width="3.2"/><path d="M0,0 L-12.1,0.0" stroke-width="3.0"/><path d="M-9.5,3.3 L-9.5,-3.3" stroke-width="3.2"/><path d="M0,0 L-7.9,-7.9" stroke-width="3.0"/><path d="M-7.8,-4.6 L-4.6,-7.8" stroke-width="3.2"/><path d="M0,0 L-0.0,-13.0" stroke-width="3.0"/><path d="M-3.3,-10.1 L3.3,-10.1" stroke-width="3.2"/><path d="M0,0 L7.9,-7.9" stroke-width="3.0"/><path d="M4.5,-7.8 L7.8,-4.5" stroke-width="3.2"/><circle r="2.4" fill="#5a5a5a" stroke="none"/></g>
<g transform="translate(486.8,835.7) rotate(17)" stroke="#5a5a5a" stroke-linecap="butt" fill="none"><path d="M0,0 L13.3,0.0" stroke-width="3.0"/><path d="M10.4,-3.3 L10.4,3.3" stroke-width="3.2"/><path d="M0,0 L7.9,7.9" stroke-width="3.0"/><path d="M7.8,4.5 L4.5,7.8" stroke-width="3.2"/><path d="M0,0 L0.0,13.5" stroke-width="3.0"/><path d="M3.3,10.5 L-3.3,10.5" stroke-width="3.2"/><path d="M0,0 L-7.0,7.0" stroke-width="3.0"/><path d="M-3.9,7.1 L-7.1,3.9" stroke-width="3.2"/><path d="M0,0 L-13.0,0.0" stroke-width="3.0"/><path d="M-10.2,3.3 L-10.2,-3.3" stroke-width="3.2"/><path d="M0,0 L-7.6,-7.6" stroke-width="3.0"/><path d="M-7.6,-4.3 L-4.3,-7.6" stroke-width="3.2"/><path d="M0,0 L-0.0,-12.8" stroke-width="3.0"/><path d="M-3.3,-10.0 L3.3,-10.0" stroke-width="3.2"/><path d="M0,0 L8.1,-8.1" stroke-width="3.0"/><path d="M4.7,-7.9 L7.9,-4.7" stroke-width="3.2"/><circle r="2.4" fill="#5a5a5a" stroke="none"/></g>
<g transform="translate(645.0,830.6) rotate(3)" stroke="#5a5a5a" stroke-linecap="butt" fill="none"><path d="M0,0 L12.2,0.0" stroke-width="3.0"/><path d="M9.5,-3.3 L9.5,3.3" stroke-width="3.2"/><path d="M0,0 L7.6,7.6" stroke-width="3.0"/><path d="M7.5,4.3 L4.3,7.5" stroke-width="3.2"/><path d="M0,0 L0.0,12.1" stroke-width="3.0"/><path d="M3.3,9.5 L-3.3,9.5" stroke-width="3.2"/><path d="M0,0 L-8.2,8.2" stroke-width="3.0"/><path d="M-4.7,8.0 L-8.0,4.7" stroke-width="3.2"/><path d="M0,0 L-12.9,0.0" stroke-width="3.0"/><path d="M-10.0,3.3 L-10.0,-3.3" stroke-width="3.2"/><path d="M0,0 L-7.3,-7.3" stroke-width="3.0"/><path d="M-7.3,-4.0 L-4.0,-7.3" stroke-width="3.2"/><path d="M0,0 L-0.0,-11.7" stroke-width="3.0"/><path d="M-3.3,-9.1 L3.3,-9.1" stroke-width="3.2"/><path d="M0,0 L8.0,-8.0" stroke-width="3.0"/><path d="M4.6,-7.9 L7.9,-4.6" stroke-width="3.2"/><circle r="2.4" fill="#5a5a5a" stroke="none"/></g>
<g transform="translate(632.3,866.0) rotate(2)" stroke="#5a5a5a" stroke-linecap="butt" fill="none"><path d="M0,0 L12.9,0.0" stroke-width="3.0"/><path d="M10.1,-3.3 L10.1,3.3" stroke-width="3.2"/><path d="M0,0 L7.7,7.7" stroke-width="3.0"/><path d="M7.7,4.4 L4.4,7.7" stroke-width="3.2"/><path d="M0,0 L0.0,12.9" stroke-width="3.0"/><path d="M3.3,10.1 L-3.3,10.1" stroke-width="3.2"/><path d="M0,0 L-8.0,8.0" stroke-width="3.0"/><path d="M-4.6,7.8 L-7.8,4.6" stroke-width="3.2"/><path d="M0,0 L-12.6,0.0" stroke-width="3.0"/><path d="M-9.9,3.3 L-9.9,-3.3" stroke-width="3.2"/><path d="M0,0 L-7.2,-7.2" stroke-width="3.0"/><path d="M-7.3,-4.0 L-4.0,-7.3" stroke-width="3.2"/><path d="M0,0 L-0.0,-12.9" stroke-width="3.0"/><path d="M-3.3,-10.1 L3.3,-10.1" stroke-width="3.2"/><path d="M0,0 L7.5,-7.5" stroke-width="3.0"/><path d="M4.2,-7.4 L7.4,-4.2" stroke-width="3.2"/><circle r="2.4" fill="#5a5a5a" stroke="none"/></g>
<g transform="translate(618.4,897.7) rotate(42)" stroke="#5a5a5a" stroke-linecap="butt" fill="none"><path d="M0,0 L12.6,0.0" stroke-width="3.0"/><path d="M9.8,-3.3 L9.8,3.3" stroke-width="3.2"/><path d="M0,0 L7.5,7.5" stroke-width="3.0"/><path d="M7.4,4.2 L4.2,7.4" stroke-width="3.2"/><path d="M0,0 L0.0,13.5" stroke-width="3.0"/><path d="M3.3,10.5 L-3.3,10.5" stroke-width="3.2"/><path d="M0,0 L-7.0,7.0" stroke-width="3.0"/><path d="M-3.9,7.1 L-7.1,3.9" stroke-width="3.2"/><path d="M0,0 L-12.0,0.0" stroke-width="3.0"/><path d="M-9.3,3.3 L-9.3,-3.3" stroke-width="3.2"/><path d="M0,0 L-8.1,-8.1" stroke-width="3.0"/><path d="M-7.9,-4.7 L-4.7,-7.9" stroke-width="3.2"/><path d="M0,0 L-0.0,-13.6" stroke-width="3.0"/><path d="M-3.3,-10.6 L3.3,-10.6" stroke-width="3.2"/><path d="M0,0 L7.7,-7.7" stroke-width="3.0"/><path d="M4.4,-7.6 L7.6,-4.4" stroke-width="3.2"/><circle r="2.4" fill="#5a5a5a" stroke="none"/></g>
<g transform="translate(598.2,925.5) rotate(32)" stroke="#5a5a5a" stroke-linecap="butt" fill="none"><path d="M0,0 L13.2,0.0" stroke-width="3.0"/><path d="M10.3,-3.3 L10.3,3.3" stroke-width="3.2"/><path d="M0,0 L7.1,7.1" stroke-width="3.0"/><path d="M7.2,3.9 L3.9,7.2" stroke-width="3.2"/><path d="M0,0 L0.0,13.6" stroke-width="3.0"/><path d="M3.3,10.6 L-3.3,10.6" stroke-width="3.2"/><path d="M0,0 L-7.7,7.7" stroke-width="3.0"/><path d="M-4.4,7.7 L-7.7,4.4" stroke-width="3.2"/><path d="M0,0 L-11.8,0.0" stroke-width="3.0"/><path d="M-9.2,3.3 L-9.2,-3.3" stroke-width="3.2"/><path d="M0,0 L-7.7,-7.7" stroke-width="3.0"/><path d="M-7.6,-4.4 L-4.4,-7.6" stroke-width="3.2"/><path d="M0,0 L-0.0,-12.0" stroke-width="3.0"/><path d="M-3.3,-9.4 L3.3,-9.4" stroke-width="3.2"/><path d="M0,0 L8.1,-8.1" stroke-width="3.0"/><path d="M4.7,-7.9 L7.9,-4.7" stroke-width="3.2"/><circle r="2.4" fill="#5a5a5a" stroke="none"/></g>
<g transform="translate(577.9,957.1) rotate(35)" stroke="#5a5a5a" stroke-linecap="butt" fill="none"><path d="M0,0 L12.1,0.0" stroke-width="3.0"/><path d="M9.4,-3.3 L9.4,3.3" stroke-width="3.2"/><path d="M0,0 L7.4,7.4" stroke-width="3.0"/><path d="M7.4,4.1 L4.1,7.4" stroke-width="3.2"/><path d="M0,0 L0.0,13.6" stroke-width="3.0"/><path d="M3.3,10.6 L-3.3,10.6" stroke-width="3.2"/><path d="M0,0 L-7.6,7.6" stroke-width="3.0"/><path d="M-4.3,7.6 L-7.6,4.3" stroke-width="3.2"/><path d="M0,0 L-11.8,0.0" stroke-width="3.0"/><path d="M-9.2,3.3 L-9.2,-3.3" stroke-width="3.2"/><path d="M0,0 L-8.0,-8.0" stroke-width="3.0"/><path d="M-7.9,-4.6 L-4.6,-7.9" stroke-width="3.2"/><path d="M0,0 L-0.0,-12.3" stroke-width="3.0"/><path d="M-3.3,-9.6 L3.3,-9.6" stroke-width="3.2"/><path d="M0,0 L7.3,-7.3" stroke-width="3.0"/><path d="M4.1,-7.3 L7.3,-4.1" stroke-width="3.2"/><circle r="2.4" fill="#5a5a5a" stroke="none"/></g>
<g transform="translate(802.5,624)" fill="#eaeaea" stroke="#5a5a5a" stroke-width="2.6"><rect x="-11" y="-11" width="22" height="22"/><path d="M-11,-11 L-3,0 L-11,11 M11,-11 L3,0 L11,11 M-3,0 H3 M-11,-11 L0,-6 L11,-11" stroke-width="1.5" fill="none"/></g>
<path d="M802.9,635.9 C805.0,637.6 812.4,640.9 815.6,646.0 C818.8,651.1 821.1,658.7 821.9,666.3 C822.7,673.9 821.8,684.3 820.6,691.6 C819.4,698.9 816.9,704.4 814.6,710.0 C812.3,715.6 810.8,717.7 807.0,725.3 C803.2,732.9 797.7,746.9 791.8,755.7 C785.9,764.6 779.2,770.0 771.6,778.4 C764.0,786.8 753.5,797.0 746.3,806.3 C739.1,815.6 733.7,824.8 728.6,834.1 C723.5,843.4 719.3,853.9 715.9,861.9 C712.5,869.9 710.4,876.9 708.3,882.2 C706.2,887.5 706.2,887.3 703.2,893.9 C700.2,900.5 695.6,912.4 690.5,921.7 C685.4,931.0 679.1,941.7 672.8,949.5 C666.5,957.3 655.9,965.3 652.5,968.5" fill="none" stroke="#5a5a5a" stroke-width="2.5" stroke-linecap="round" stroke-linejoin="round"/>
<path d="M789.0,567.6 C789.2,570.5 790.9,579.0 790.3,585.3 C789.7,591.6 787.3,600.0 785.2,605.5 C783.1,611.0 778.9,616.1 777.6,618.2" fill="none" stroke="#5a5a5a" stroke-width="2.0" stroke-linecap="butt" stroke-linejoin="round" stroke-dasharray="4 2.4 1.6 2.4"/>
<path d="M797.9,638.4 C796.8,640.1 791.1,645.2 791.5,648.6 C791.9,652.0 797.9,654.5 800.4,658.7 C802.9,662.9 805.9,666.7 806.7,673.9 C807.5,681.1 806.9,693.7 805.4,701.7 C803.9,709.7 801.7,716.0 797.9,721.9 C794.1,727.8 785.2,734.6 782.7,737.1" fill="none" stroke="#5a5a5a" stroke-width="2.0" stroke-linecap="butt" stroke-linejoin="round" stroke-dasharray="5 3"/>
<path d="M678.0,721.5 C679.2,723.0 683.4,727.2 685.5,730.4 C687.6,733.6 687.2,738.4 690.6,740.5 C694.0,742.6 701.2,743.9 705.8,743.0 C710.4,742.1 716.3,736.7 718.4,735.4" fill="none" stroke="#5a5a5a" stroke-width="2.0" stroke-linecap="butt" stroke-linejoin="round" stroke-dasharray="5 3"/>
<path d="M758.9,745.5 C757.6,748.5 753.4,758.6 751.3,763.3 C749.2,767.9 747.1,771.7 746.3,773.4" fill="none" stroke="#5a5a5a" stroke-width="2.0" stroke-linecap="butt" stroke-linejoin="round" stroke-dasharray="4 2.4 1.6 2.4"/>
<path d="M746.3,796.2 C745.4,797.9 744.6,802.1 741.2,806.3 C737.8,810.5 729.4,816.9 726.0,821.5 C722.6,826.1 724.4,831.4 721.0,834.1 C717.6,836.8 711.7,836.4 705.8,837.9 C699.9,839.4 690.6,840.7 685.5,843.0 C680.4,845.3 677.5,847.0 675.4,851.8 C673.3,856.6 674.2,863.7 672.9,872.0 C671.6,880.3 666.9,895.3 667.7,901.5 C668.5,907.7 675.8,905.2 677.9,909.0 C680.0,912.8 682.1,920.4 680.4,924.2 C678.7,928.0 673.2,929.7 667.7,931.8 C662.2,933.9 654.2,933.5 647.5,936.9 C640.8,940.3 632.3,946.8 627.2,952.1 C622.1,957.4 618.8,965.8 617.1,968.5" fill="none" stroke="#5a5a5a" stroke-width="2.0" stroke-linecap="butt" stroke-linejoin="round" stroke-dasharray="4 2.4 1.6 2.4"/>
<path d="M680.5,798.7 C679.6,802.5 677.5,812.6 675.4,821.5 C673.3,830.4 671.2,841.7 667.8,851.8 C664.4,861.9 659.4,873.3 655.2,882.2 C651.0,891.1 646.6,897.6 642.4,905.0 C638.2,912.4 634.4,918.5 629.8,926.8 C625.2,935.1 618.6,947.6 614.6,954.6 C610.6,961.6 607.2,966.2 605.7,968.5" fill="none" stroke="#5a5a5a" stroke-width="2.0" stroke-linecap="butt" stroke-linejoin="round" stroke-dasharray="4 2.4 1.6 2.4"/>
<path d="M661.5,806.3 C662.1,808.8 665.9,813.9 665.3,821.5 C664.7,829.1 660.7,842.5 657.7,851.8 C654.8,861.1 651.4,869.4 647.6,877.1 C643.8,884.8 639.2,891.8 635.0,898.0 C630.8,904.2 627.3,905.9 622.2,914.1 C617.1,922.3 609.6,937.9 604.5,947.0 C599.4,956.1 593.9,964.9 591.8,968.5" fill="none" stroke="#5a5a5a" stroke-width="2.0" stroke-linecap="butt" stroke-linejoin="round" stroke-dasharray="4 2.4 1.6 2.4"/>
<path d="M789.3,722.8 C790.6,721.9 794.4,720.2 796.9,717.7 C799.4,715.2 803.2,709.3 804.5,707.6" fill="none" stroke="#5a5a5a" stroke-width="2.0" stroke-linecap="butt" stroke-linejoin="round" stroke-dasharray="4 2.4 1.6 2.4"/>
<path d="M646.0,686.5 L643.5,701.7" fill="none" stroke="#5a5a5a" stroke-width="2.0" stroke-linecap="butt" stroke-linejoin="round" stroke-dasharray="4 2.4 1.6 2.4"/>
<path d="M677.7,689.0 L675.1,711.8" fill="none" stroke="#5a5a5a" stroke-width="2.0" stroke-linecap="butt" stroke-linejoin="round" stroke-dasharray="4 2.4 1.6 2.4"/>
<path d="M451.4,650.4 C452.9,653.8 457.5,661.8 460.2,670.6 C462.9,679.5 464.0,693.4 467.8,703.5 C471.6,713.6 478.8,724.1 483.0,731.3 C487.2,738.5 491.4,744.0 493.1,746.5" fill="none" stroke="#5a5a5a" stroke-width="2.0" stroke-linecap="butt" stroke-linejoin="round" stroke-dasharray="4 2.4 1.6 2.4"/>
<path d="M465.3,780.7 C469.5,778.8 483.4,772.5 490.6,769.3 C497.8,766.1 505.4,763.0 508.3,761.7" fill="none" stroke="#5a5a5a" stroke-width="2.0" stroke-linecap="butt" stroke-linejoin="round" stroke-dasharray="4 2.4 1.6 2.4"/>
<path d="M464.0,782.0 C465.5,785.4 469.7,796.2 472.9,802.2 C476.1,808.2 481.3,815.4 483.0,818.0" fill="none" stroke="#5a5a5a" stroke-width="2.0" stroke-linecap="butt" stroke-linejoin="round" stroke-dasharray="5 3"/>
<path d="M509.6,805.3 C508.6,805.7 506.2,806.3 503.3,807.8 C500.4,809.3 493.4,810.8 491.9,814.2 C490.4,817.6 491.7,824.7 494.4,828.1 C497.1,831.5 505.1,833.6 508.3,834.4 C511.5,835.2 510.9,835.0 513.4,833.1 C515.9,831.2 521.8,824.7 523.5,823.0" fill="none" stroke="#5a5a5a" stroke-width="2.0" stroke-linecap="butt" stroke-linejoin="round" stroke-dasharray="4 2.4 1.6 2.4"/>
<path d="M508.3,834.4 C511.9,837.6 524.3,848.5 529.8,853.4 C535.3,858.2 537.2,861.0 541.2,863.5 C545.2,866.0 548.8,866.1 553.9,868.6 C559.0,871.1 567.4,877.7 571.6,878.7 C575.8,879.8 575.8,880.8 579.2,874.9 C582.6,869.0 589.7,848.6 591.8,843.3" fill="none" stroke="#5a5a5a" stroke-width="2.0" stroke-linecap="butt" stroke-linejoin="round" stroke-dasharray="4 2.4 1.6 2.4"/>
<path d="M529.8,853.4 L556.4,828.1" fill="none" stroke="#5a5a5a" stroke-width="2.0" stroke-linecap="butt" stroke-linejoin="round" stroke-dasharray="4 2.4 1.6 2.4"/>
<path d="M551.3,866.0 L566.5,838.2" fill="none" stroke="#5a5a5a" stroke-width="2.0" stroke-linecap="butt" stroke-linejoin="round" stroke-dasharray="4 2.4 1.6 2.4"/>
<path d="M401.0,963.5 L430.6,938.2" fill="none" stroke="#5a5a5a" stroke-width="2.4" stroke-linecap="round" stroke-linejoin="round"/>
<path d="M437.4,932.3 L469.4,901.0 L513.3,947.5 L494.7,969.4" fill="none" stroke="#5a5a5a" stroke-width="2.6" stroke-linecap="round" stroke-linejoin="round"/>
<path d="M413.7,918.0 L429.0,923.9" fill="none" stroke="#5a5a5a" stroke-width="1.6" stroke-linecap="round" stroke-linejoin="round"/>
<path d="M413.7,924.7 L430.6,935.7" fill="none" stroke="#5a5a5a" stroke-width="1.6" stroke-linecap="round" stroke-linejoin="round"/>
<g transform="translate(462.7,934.0) rotate(50)" fill="#eeeeee" stroke="#5a5a5a" stroke-width="2.9" stroke-linejoin="round"><rect x="-13.0" y="-8.5" width="26.0" height="17.0"/><path d="M-7.6,0.0 L7.6,0.0" stroke-width="2.26"/><path d="M-13.0,-8.5 L-7.6,0.0 L-13.0,8.5 M13.0,-8.5 L7.6,0.0 L13.0,8.5" fill="none" stroke-width="2.26"/></g>
<g transform="translate(435.7,966.0) rotate(-45)" fill="#eeeeee" stroke="#5a5a5a" stroke-width="2.9" stroke-linejoin="round"><rect x="-11.0" y="-8.0" width="22.0" height="16.0"/><path d="M-5.9,0.0 L5.9,0.0" stroke-width="2.26"/><path d="M-11.0,-8.0 L-5.9,0.0 L-11.0,8.0 M11.0,-8.0 L5.9,0.0 L11.0,8.0" fill="none" stroke-width="2.26"/></g>
<g transform="translate(459.3,964.5) rotate(45)" fill="#eeeeee" stroke="#5a5a5a" stroke-width="2.9" stroke-linejoin="round"><rect x="-11.0" y="-8.0" width="22.0" height="16.0"/><path d="M-5.9,0.0 L5.9,0.0" stroke-width="2.26"/><path d="M-11.0,-8.0 L-5.9,0.0 L-11.0,8.0 M11.0,-8.0 L5.9,0.0 L11.0,8.0" fill="none" stroke-width="2.26"/></g>
<path d="M167.7,601.8 L222.1,590.4 L225.9,608.1 L237.3,630.9 L241.1,657.4 L219.6,662.5 L218.3,667.5 L191.8,672.6 L180.4,646.0 L175.3,644.8 L167.7,601.8" fill="none" stroke="#5a5a5a" stroke-width="2.3" stroke-linecap="round" stroke-linejoin="round"/>
<g transform="translate(206.9,616.2) rotate(-5)" fill="#eeeeee" stroke="#5a5a5a" stroke-width="2.9" stroke-linejoin="round"><rect x="-15.0" y="-7.0" width="30.0" height="14.0"/><path d="M-10.5,0.0 L10.5,0.0" stroke-width="2.26"/><path d="M-15.0,-7.0 L-10.5,0.0 L-15.0,7.0 M15.0,-7.0 L10.5,0.0 L15.0,7.0" fill="none" stroke-width="2.26"/></g>
<g transform="translate(215.3,628.3) rotate(-5)" fill="#eeeeee" stroke="#5a5a5a" stroke-width="2.9" stroke-linejoin="round"><rect x="-7.5" y="-13.0" width="15.0" height="26.0"/><path d="M0.0,-8.2 L0.0,8.2" stroke-width="2.26"/><path d="M-7.5,-13.0 L0.0,-8.2 L7.5,-13.0 M-7.5,13.0 L0.0,8.2 L7.5,13.0" fill="none" stroke-width="2.26"/></g>
<g transform="translate(193.5,654.1) rotate(-20)" fill="#eeeeee" stroke="#5a5a5a" stroke-width="2.9" stroke-linejoin="round"><rect x="-7.0" y="-13.0" width="14.0" height="26.0"/><path d="M0.0,-8.5 L0.0,8.5" stroke-width="2.26"/><path d="M-7.0,-13.0 L0.0,-8.5 L7.0,-13.0 M-7.0,13.0 L0.0,8.5 L7.0,13.0" fill="none" stroke-width="2.26"/></g>
<path d="M241.1,656.2 C247.0,654.5 264.3,650.6 276.5,646.0 C288.7,641.4 301.9,634.6 314.5,628.3 C327.1,622.0 341.9,612.7 352.4,608.1 C362.9,603.5 369.3,602.4 377.7,600.5 C386.1,598.6 397.9,599.2 403.0,596.7 C408.1,594.2 407.2,587.2 408.1,585.3" fill="none" stroke="#5a5a5a" stroke-width="2.0" stroke-linecap="butt" stroke-linejoin="round" stroke-dasharray="4 2.4 1.6 2.4"/>
<path d="M193.0,675.1 C201.0,673.0 227.2,666.3 241.1,662.5 C255.0,658.7 264.3,656.8 276.5,652.4 C288.7,648.0 301.9,642.2 314.5,635.9 C327.1,629.6 341.9,619.2 352.4,614.4 C362.9,609.5 370.1,608.3 377.7,606.8 C385.3,605.3 392.1,605.1 398.0,605.5 C403.9,605.9 409.5,607.6 413.2,609.3 C416.9,611.0 418.9,614.6 420.0,615.7" fill="none" stroke="#5a5a5a" stroke-width="2.0" stroke-linecap="butt" stroke-linejoin="round" stroke-dasharray="4 2.4 1.6 2.4"/>
</g></g>
<text x="729" y="206.4" font-family="Liberation Sans" font-size="31.5" fill="#626262" text-anchor="middle">1</text>
<text x="693.5" y="258.4" font-family="Liberation Sans" font-size="31.5" fill="#626262" text-anchor="middle">2</text>
<text x="690" y="295.4" font-family="Liberation Sans" font-size="31.5" fill="#626262" text-anchor="middle">3</text>
<text x="684.5" y="335.4" font-family="Liberation Sans" font-size="31.5" fill="#626262" text-anchor="middle">7</text>
<text x="730.5" y="361.4" font-family="Liberation Sans" font-size="31.5" fill="#626262" text-anchor="middle">8</text>
<text x="869" y="414.9" font-family="Liberation Sans" font-size="31.5" fill="#626262" text-anchor="middle">12</text>
<text x="899" y="498.4" font-family="Liberation Sans" font-size="31.5" fill="#626262" text-anchor="middle">13</text>
<text x="905" y="600.4" font-family="Liberation Sans" font-size="31.5" fill="#626262" text-anchor="middle">15</text>
<text x="874" y="709.4" font-family="Liberation Sans" font-size="31.5" fill="#626262" text-anchor="middle">17</text>
<text x="885" y="804.4" font-family="Liberation Sans" font-size="31.5" fill="#626262" text-anchor="middle">20</text>
<text x="298" y="211.4" font-family="Liberation Sans" font-size="31.5" fill="#626262" text-anchor="middle">4</text>
<text x="261.5" y="275.4" font-family="Liberation Sans" font-size="31.5" fill="#626262" text-anchor="middle">5</text>
<text x="209" y="330.4" font-family="Liberation Sans" font-size="31.5" fill="#626262" text-anchor="middle">6</text>
<text x="185" y="388.4" font-family="Liberation Sans" font-size="31.5" fill="#626262" text-anchor="middle">9</text>
<text x="160" y="446.4" font-family="Liberation Sans" font-size="31.5" fill="#626262" text-anchor="middle">10</text>
<text x="169" y="513.4" font-family="Liberation Sans" font-size="31.5" fill="#626262" text-anchor="middle">11</text>
<text x="292" y="689.4" font-family="Liberation Sans" font-size="31.5" fill="#626262" text-anchor="middle">14</text>
<text x="269" y="749.4" font-family="Liberation Sans" font-size="31.5" fill="#626262" text-anchor="middle">16</text>
<text x="308" y="822.4" font-family="Liberation Sans" font-size="31.5" fill="#626262" text-anchor="middle">18</text>
<text x="333.5" y="885.4" font-family="Liberation Sans" font-size="31.5" fill="#626262" text-anchor="middle">19</text>
<text x="543" y="937.4" font-family="Liberation Sans" font-size="31.5" fill="#626262" text-anchor="middle">21</text>
<path d="M709,195 L547,173.5" stroke="#5c5c5c" stroke-width="1.55" fill="none"/>
<path d="M677,247 L518,284" stroke="#5c5c5c" stroke-width="1.55" fill="none"/>
<path d="M672,285 L574,327" stroke="#5c5c5c" stroke-width="1.55" fill="none"/>
<path d="M667.5,324 L575.5,384.5" stroke="#5c5c5c" stroke-width="1.55" fill="none"/>
<path d="M715.5,347.5 L638,389.5" stroke="#5c5c5c" stroke-width="1.55" fill="none"/>
<path d="M845,408.5 L693.5,536" stroke="#5c5c5c" stroke-width="1.55" fill="none"/>
<path d="M876,493 L746,596" stroke="#5c5c5c" stroke-width="1.55" fill="none"/>
<path d="M881.5,593.5 L816,617.5" stroke="#5c5c5c" stroke-width="1.55" fill="none"/>
<path d="M849.5,701.5 L667,713.5" stroke="#5c5c5c" stroke-width="1.55" fill="none"/>
<path d="M861,793 L718,766.5" stroke="#5c5c5c" stroke-width="1.55" fill="none"/>
<path d="M315.5,211 L432,310" stroke="#5c5c5c" stroke-width="1.55" fill="none"/>
<path d="M281.5,266 L396.5,315" stroke="#5c5c5c" stroke-width="1.55" fill="none"/>
<path d="M232,323.5 L400,345.5" stroke="#5c5c5c" stroke-width="1.55" fill="none"/>
<path d="M205,376.5 L443.5,414.5" stroke="#5c5c5c" stroke-width="1.55" fill="none"/>
<path d="M187,433 L525.5,475.5" stroke="#5c5c5c" stroke-width="1.55" fill="none"/>
<path d="M197,505 L470,517" stroke="#5c5c5c" stroke-width="1.55" fill="none"/>
<path d="M320.5,673 L427,642.5" stroke="#5c5c5c" stroke-width="1.55" fill="none"/>
<path d="M295,737 L551.5,632.5" stroke="#5c5c5c" stroke-width="1.55" fill="none"/>
<path d="M335.5,809 L575.5,729" stroke="#5c5c5c" stroke-width="1.55" fill="none"/>
<path d="M358,858 L545,752" stroke="#5c5c5c" stroke-width="1.55" fill="none"/>
<path d="M542,905 L601,810.5" stroke="#5c5c5c" stroke-width="1.55" fill="none"/>
<filter id="erode2" x="380" y="975" width="360" height="50" filterUnits="userSpaceOnUse"><feGaussianBlur stdDeviation="0.8"/><feComponentTransfer><feFuncA type="linear" slope="4" intercept="-1.7"/></feComponentTransfer></filter>
<text filter="url(#erode2)" x="405" y="1006" font-family="Liberation Serif" font-size="31" font-style="italic" font-weight="bold" fill="#151515" textLength="301" lengthAdjust="spacingAndGlyphs">Moosgrund &#8211; Legende</text>
<filter id="erode" x="0" y="1030" width="1067" height="314" filterUnits="userSpaceOnUse"><feGaussianBlur stdDeviation="0.77"/><feComponentTransfer><feFuncA type="linear" slope="4" intercept="-1.9"/></feComponentTransfer></filter>
<g filter="url(#erode)">
<text x="19" y="1051.3" font-family="Liberation Serif" font-size="25" font-style="italic" fill="#222222" text-anchor="start">1.</text>
<text x="68" y="1051.3" font-family="Liberation Serif" font-size="25" fill="#222222" textLength="123.0" lengthAdjust="spacingAndGlyphs"><tspan font-style="italic">Viehhändler</tspan></text>
<text x="19" y="1079.6" font-family="Liberation Serif" font-size="25" font-style="italic" fill="#222222" text-anchor="start">2.</text>
<text x="68" y="1079.6" font-family="Liberation Serif" font-size="25" fill="#222222" textLength="152.0" lengthAdjust="spacingAndGlyphs"><tspan font-style="italic">Die Achbrücke</tspan></text>
<text x="19" y="1107.8" font-family="Liberation Serif" font-size="25" font-style="italic" fill="#222222" text-anchor="start">3.</text>
<text x="68" y="1107.8" font-family="Liberation Serif" font-size="25" fill="#222222" textLength="188.5" lengthAdjust="spacingAndGlyphs"><tspan font-style="italic">Der Efferd-Tempel</tspan></text>
<text x="19" y="1136.1" font-family="Liberation Serif" font-size="25" font-style="italic" fill="#222222" text-anchor="start">4.</text>
<text x="68" y="1136.1" font-family="Liberation Serif" font-size="25" fill="#222222" textLength="154.0" lengthAdjust="spacingAndGlyphs"><tspan font-style="italic">Die Alte Mühle</tspan></text>
<text x="19" y="1164.4" font-family="Liberation Serif" font-size="25" font-style="italic" fill="#222222" text-anchor="start">5.</text>
<text x="68" y="1164.4" font-family="Liberation Serif" font-size="25" fill="#222222" textLength="68.0" lengthAdjust="spacingAndGlyphs"><tspan font-style="italic">Müller</tspan></text>
<text x="19" y="1192.6" font-family="Liberation Serif" font-size="25" font-style="italic" fill="#222222" text-anchor="start">6.</text>
<text x="68" y="1192.6" font-family="Liberation Serif" font-size="25" fill="#222222" textLength="419.5" lengthAdjust="spacingAndGlyphs"><tspan font-style="italic">Gasthaus</tspan> Mokoschas Rast <tspan font-style="italic">(Q5 / P3 / S8)</tspan></text>
<text x="19" y="1220.9" font-family="Liberation Serif" font-size="25" font-style="italic" fill="#222222" text-anchor="start">7.</text>
<text x="68" y="1220.9" font-family="Liberation Serif" font-size="25" fill="#222222" textLength="182.0" lengthAdjust="spacingAndGlyphs"><tspan font-style="italic">Taverne</tspan> Jarl Vitus</text>
<text x="19" y="1249.2" font-family="Liberation Serif" font-size="25" font-style="italic" fill="#222222" text-anchor="start">8.</text>
<text x="68" y="1249.2" font-family="Liberation Serif" font-size="25" fill="#222222" textLength="271.0" lengthAdjust="spacingAndGlyphs"><tspan font-style="italic">Fährhaus und Bootsbauer</tspan></text>
<text x="19" y="1277.5" font-family="Liberation Serif" font-size="25" font-style="italic" fill="#222222" text-anchor="start">9.</text>
<text x="68" y="1277.5" font-family="Liberation Serif" font-size="25" fill="#222222" textLength="70.0" lengthAdjust="spacingAndGlyphs"><tspan font-style="italic">Kontor</tspan></text>
<text x="19" y="1305.7" font-family="Liberation Serif" font-size="25" font-style="italic" fill="#222222" text-anchor="start">10.</text>
<text x="68" y="1305.7" font-family="Liberation Serif" font-size="25" fill="#222222" textLength="158.0" lengthAdjust="spacingAndGlyphs"><tspan font-style="italic">Der Marktplatz</tspan></text>
<text x="19" y="1334.0" font-family="Liberation Serif" font-size="25" font-style="italic" fill="#222222" text-anchor="start">11.</text>
<text x="68" y="1334.0" font-family="Liberation Serif" font-size="25" fill="#222222" textLength="85.0" lengthAdjust="spacingAndGlyphs"><tspan font-style="italic">Schmied</tspan></text>
<text x="559" y="1051.3" font-family="Liberation Serif" font-size="25" font-style="italic" fill="#222222" text-anchor="start">12.</text>
<text x="620" y="1051.3" font-family="Liberation Serif" font-size="25" fill="#222222" textLength="174.0" lengthAdjust="spacingAndGlyphs"><tspan font-style="italic">Burg Moosgrund</tspan></text>
<text x="559" y="1079.5" font-family="Liberation Serif" font-size="25" font-style="italic" fill="#222222" text-anchor="start">13.</text>
<text x="620" y="1079.5" font-family="Liberation Serif" font-size="25" fill="#222222" textLength="336.5" lengthAdjust="spacingAndGlyphs"><tspan font-style="italic">Leuinstolz &#8211; Der Rondra-Tempel</tspan></text>
<text x="559" y="1107.6" font-family="Liberation Serif" font-size="25" font-style="italic" fill="#222222" text-anchor="start">14.</text>
<text x="620" y="1107.6" font-family="Liberation Serif" font-size="25" fill="#222222" textLength="160.5" lengthAdjust="spacingAndGlyphs"><tspan font-style="italic">Peraine-Tempel</tspan></text>
<text x="559" y="1135.8" font-family="Liberation Serif" font-size="25" font-style="italic" fill="#222222" text-anchor="start">15.</text>
<text x="620" y="1135.8" font-family="Liberation Serif" font-size="25" fill="#222222" textLength="166.5" lengthAdjust="spacingAndGlyphs"><tspan font-style="italic">Hesinde-Schrein</tspan></text>
<text x="559" y="1164.0" font-family="Liberation Serif" font-size="25" font-style="italic" fill="#222222" text-anchor="start">16.</text>
<text x="620" y="1164.0" font-family="Liberation Serif" font-size="25" fill="#222222" textLength="373.0" lengthAdjust="spacingAndGlyphs"><tspan font-style="italic">Herberge</tspan> Fuchshorn <tspan font-style="italic">(Q8 / P6 / S15)</tspan></text>
<text x="559" y="1192.2" font-family="Liberation Serif" font-size="25" font-style="italic" fill="#222222" text-anchor="start">17.</text>
<text x="620" y="1192.2" font-family="Liberation Serif" font-size="25" fill="#222222" textLength="457.0" lengthAdjust="spacingAndGlyphs"><tspan font-style="italic">Tischlermeister und Haupt der Bürgerschaft</tspan></text>
<text x="559" y="1220.3" font-family="Liberation Serif" font-size="25" font-style="italic" fill="#222222" text-anchor="start">18.</text>
<text x="620" y="1220.3" font-family="Liberation Serif" font-size="25" fill="#222222" textLength="421.5" lengthAdjust="spacingAndGlyphs"><tspan font-style="italic">Freudenhaus</tspan> Rahjas Geschenk <tspan font-style="italic">(Q7 / P9)</tspan></text>
<text x="559" y="1248.5" font-family="Liberation Serif" font-size="25" font-style="italic" fill="#222222" text-anchor="start">19.</text>
<text x="620" y="1248.5" font-family="Liberation Serif" font-size="25" fill="#222222" textLength="203.0" lengthAdjust="spacingAndGlyphs"><tspan font-style="italic">Badehaus Tagesruh</tspan></text>
<text x="559" y="1276.7" font-family="Liberation Serif" font-size="25" font-style="italic" fill="#222222" text-anchor="start">20.</text>
<text x="620" y="1276.7" font-family="Liberation Serif" font-size="25" fill="#222222" textLength="85.5" lengthAdjust="spacingAndGlyphs"><tspan font-style="italic">Medicus</tspan></text>
<text x="559" y="1304.8" font-family="Liberation Serif" font-size="25" font-style="italic" fill="#222222" text-anchor="start">21</text>
<text x="620" y="1304.8" font-family="Liberation Serif" font-size="25" fill="#222222" textLength="177.5" lengthAdjust="spacingAndGlyphs"><tspan font-style="italic">Kneipe</tspan> Elsternest</text>
</g>
<path d="M1.2,972 V1012" stroke="#777" stroke-width="2.2"/>
<path d="M0,1340.5 H30" stroke="#666" stroke-width="1.6"/>
</svg>
</body></html>
